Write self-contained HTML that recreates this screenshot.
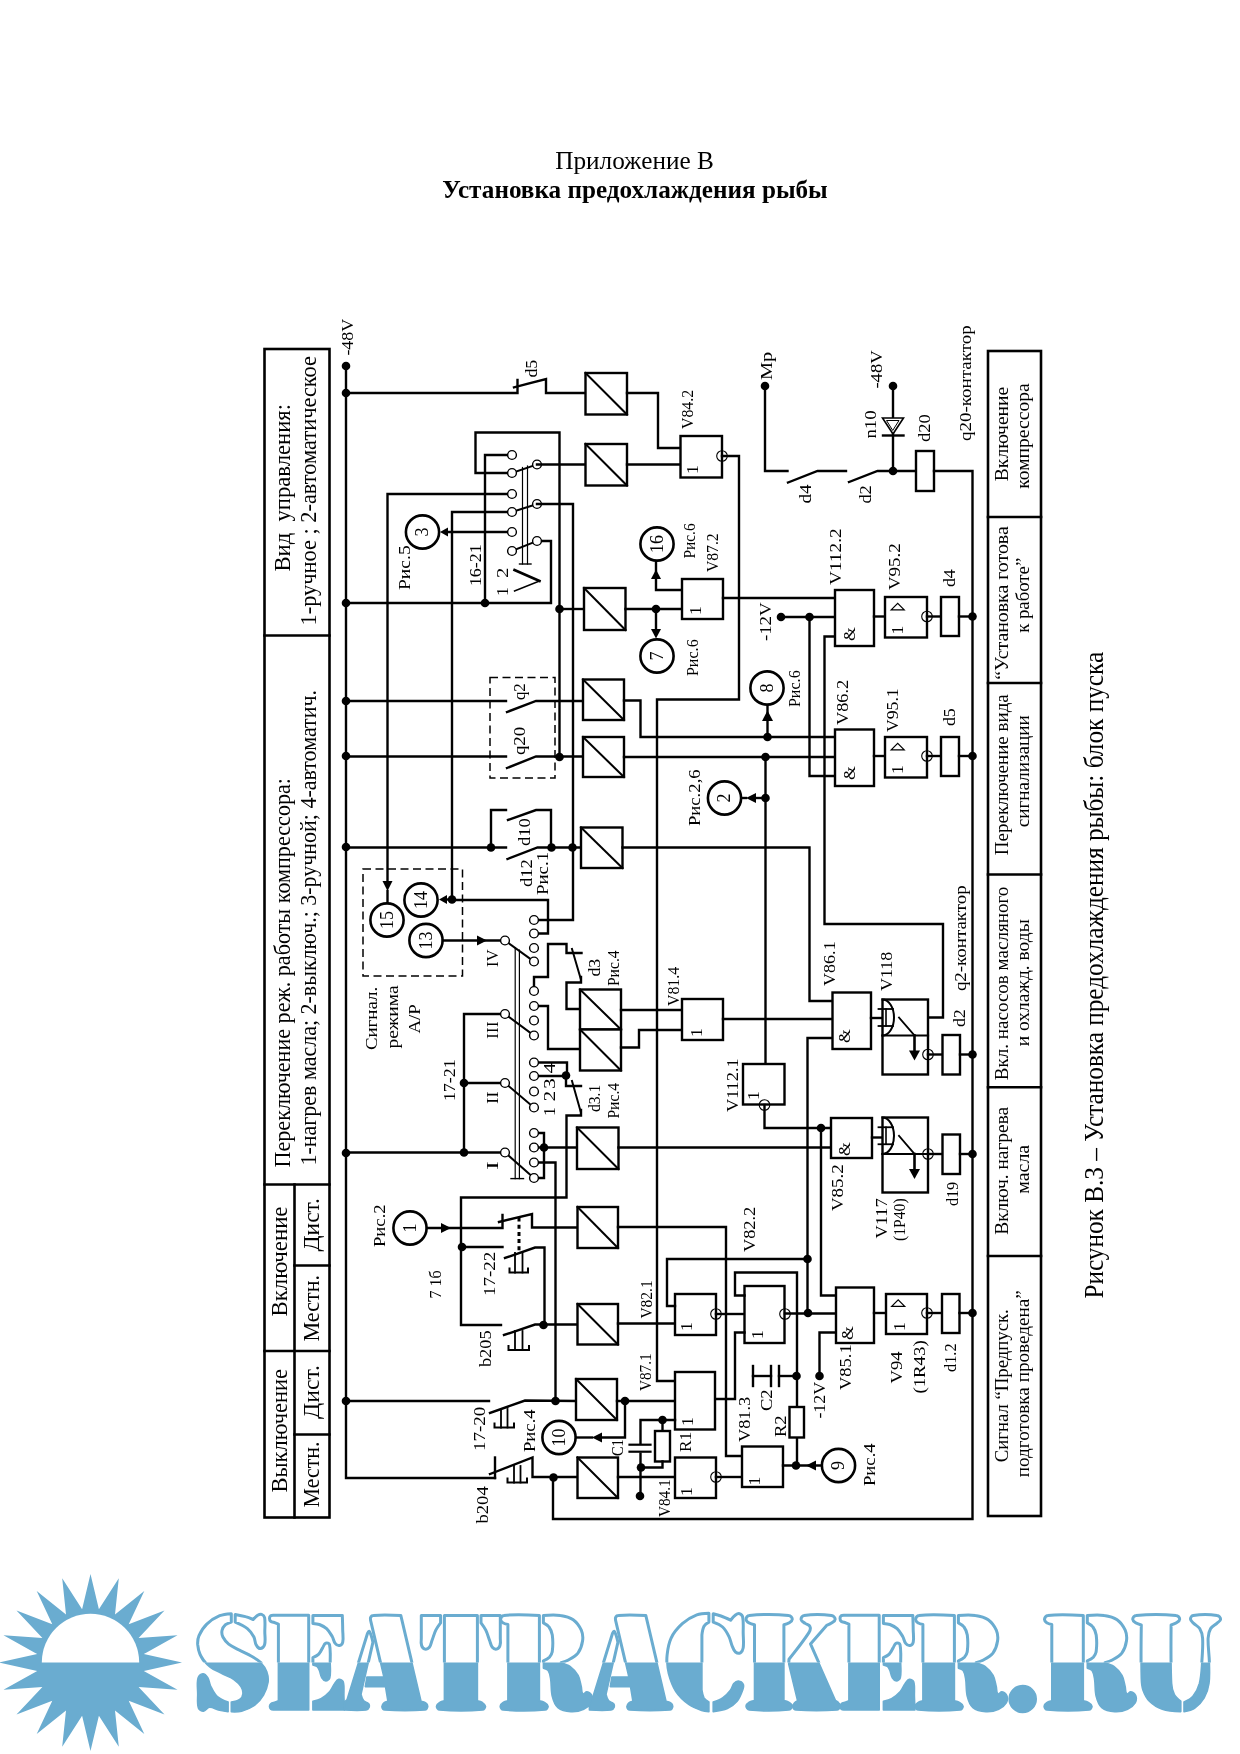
<!DOCTYPE html>
<html><head><meta charset="utf-8"><title>Приложение В</title>
<style>
html,body{margin:0;padding:0;background:#fff;}
body{width:1240px;height:1754px;overflow:hidden;position:relative;font-family:"Liberation Serif",serif;}
svg{position:absolute;left:0;top:0;display:block;opacity:0.999;will-change:opacity}
svg text{font-family:"Liberation Serif",serif;fill:#000;stroke:none}
svg .lg text{fill:inherit;stroke:inherit}
.h{position:absolute;left:0;width:1240px;text-align:center;font-size:24px;line-height:28px;color:#000;white-space:nowrap}
</style></head><body>
<svg width="1240" height="1754" viewBox="0 0 1240 1754" fill="none" stroke="#000" stroke-linecap="square" stroke-linejoin="miter">
<text x="634.5" y="169.2" font-size="25.3" text-anchor="middle" textLength="158.6" lengthAdjust="spacingAndGlyphs">Приложение В</text>
<text x="635" y="198" font-size="25.3" font-weight="bold" text-anchor="middle" textLength="385.6" lengthAdjust="spacingAndGlyphs">Установка предохлаждения рыбы</text>
<rect x="264.5" y="349" width="65.0" height="1168.5" stroke-width="2.6" fill="none"/>
<polyline points="264.5,635.5 329.5,635.5" stroke-width="2.6" />
<polyline points="264.5,1184.5 329.5,1184.5" stroke-width="2.6" />
<polyline points="264.5,1351 329.5,1351" stroke-width="2.6" />
<polyline points="294.5,1184.5 294.5,1517.5" stroke-width="2.6" />
<polyline points="294.5,1265.5 329.5,1265.5" stroke-width="2.6" />
<polyline points="294.5,1434.5 329.5,1434.5" stroke-width="2.6" />
<text transform="translate(289.6,571.5) rotate(-90)" font-size="24" textLength="167.5" lengthAdjust="spacingAndGlyphs">Вид  управления:</text>
<text transform="translate(316.4,625.5) rotate(-90)" font-size="24" textLength="269.5" lengthAdjust="spacingAndGlyphs">1-ручное ; 2-автоматическое</text>
<text transform="translate(289.6,1167.5) rotate(-90)" font-size="24" textLength="389.5" lengthAdjust="spacingAndGlyphs">Переключение реж. работы компрессора:</text>
<text transform="translate(316.4,1165.5) rotate(-90)" font-size="24" textLength="475.5" lengthAdjust="spacingAndGlyphs">1-нагрев масла; 2-выключ.; 3-ручной; 4-автоматич.</text>
<text transform="translate(287,1316.5) rotate(-90)" font-size="24" textLength="110.0" lengthAdjust="spacingAndGlyphs">Включение</text>
<text transform="translate(319,1251.5) rotate(-90)" font-size="24" textLength="53.5" lengthAdjust="spacingAndGlyphs">Дист.</text>
<text transform="translate(319,1341.5) rotate(-90)" font-size="24" textLength="66.5" lengthAdjust="spacingAndGlyphs">Местн.</text>
<text transform="translate(287,1492.5) rotate(-90)" font-size="24" textLength="123.5" lengthAdjust="spacingAndGlyphs">Выключение</text>
<text transform="translate(319,1419.0) rotate(-90)" font-size="24" textLength="54.0" lengthAdjust="spacingAndGlyphs">Дист.</text>
<text transform="translate(319,1507.5) rotate(-90)" font-size="24" textLength="66.0" lengthAdjust="spacingAndGlyphs">Местн.</text>
<rect x="988" y="351" width="53" height="1165" stroke-width="2.6" fill="none"/>
<polyline points="988,517 1041,517" stroke-width="2.6" />
<polyline points="988,683 1041,683" stroke-width="2.6" />
<polyline points="988,874.5 1041,874.5" stroke-width="2.6" />
<polyline points="988,1087.3 1041,1087.3" stroke-width="2.6" />
<polyline points="988,1256 1041,1256" stroke-width="2.6" />
<text transform="translate(1007.6,481.2) rotate(-90)" font-size="19" textLength="94.5" lengthAdjust="spacingAndGlyphs">Включение</text>
<text transform="translate(1029.3,488.8) rotate(-90)" font-size="19" textLength="105.5" lengthAdjust="spacingAndGlyphs">компрессора</text>
<text transform="translate(1007.6,679.8) rotate(-90)" font-size="19" textLength="153.5" lengthAdjust="spacingAndGlyphs">“Установка готова</text>
<text transform="translate(1029.3,632.8) rotate(-90)" font-size="19" textLength="75.0" lengthAdjust="spacingAndGlyphs">к работе”</text>
<text transform="translate(1007.6,855.2) rotate(-90)" font-size="19" textLength="161.0" lengthAdjust="spacingAndGlyphs">Переключение вида</text>
<text transform="translate(1029.3,827.2) rotate(-90)" font-size="19" textLength="112.0" lengthAdjust="spacingAndGlyphs">сигнализации</text>
<text transform="translate(1007.6,1080.2) rotate(-90)" font-size="19" textLength="193.5" lengthAdjust="spacingAndGlyphs">Вкл. насосов масляного</text>
<text transform="translate(1029.3,1046.2) rotate(-90)" font-size="19" textLength="127.0" lengthAdjust="spacingAndGlyphs">и охлажд. воды</text>
<text transform="translate(1007.6,1234.8) rotate(-90)" font-size="19" textLength="128.0" lengthAdjust="spacingAndGlyphs">Включ. нагрева</text>
<text transform="translate(1029.3,1193.8) rotate(-90)" font-size="19" textLength="49.0" lengthAdjust="spacingAndGlyphs">масла</text>
<text transform="translate(1007.6,1462.2) rotate(-90)" font-size="19" textLength="153.0" lengthAdjust="spacingAndGlyphs">Сигнал “Предпуск.</text>
<text transform="translate(1029.3,1477.2) rotate(-90)" font-size="19" textLength="187.0" lengthAdjust="spacingAndGlyphs">подготовка проведена”</text>
<text transform="translate(1102.6,1298.6) rotate(-90)" font-size="26.7" textLength="646.7" lengthAdjust="spacingAndGlyphs">Рисунок В.3 – Установка предохлаждения рыбы: блок пуска</text>
<polyline points="346,366 346,1478 495,1478" stroke-width="2.4" />
<circle cx="346" cy="366" r="4.3" fill="#000" stroke="none"/>
<circle cx="346" cy="393" r="4.3" fill="#000" stroke="none"/>
<circle cx="346" cy="603" r="4.3" fill="#000" stroke="none"/>
<circle cx="346" cy="701" r="4.3" fill="#000" stroke="none"/>
<circle cx="346" cy="756" r="4.3" fill="#000" stroke="none"/>
<circle cx="346" cy="847" r="4.3" fill="#000" stroke="none"/>
<circle cx="346" cy="1153" r="4.3" fill="#000" stroke="none"/>
<circle cx="346" cy="1401" r="4.3" fill="#000" stroke="none"/>
<text transform="translate(352.5,355.6) rotate(-90)" font-size="16.5" textLength="36.8" lengthAdjust="spacingAndGlyphs">-48V</text>
<polyline points="346,393 517.5,393 517.5,380" stroke-width="2.4" />
<polyline points="514,387.3 546,379 546,393 585.5,393" stroke-width="2.4" />
<text transform="translate(536.5,377.6) rotate(-90)" font-size="16.5" textLength="17.8" lengthAdjust="spacingAndGlyphs">d5</text>
<rect x="585.5" y="373" width="41.5" height="41.5" stroke-width="2.4" fill="#fff"/>
<polyline points="585.5,373 627,414.5" stroke-width="2" />
<polyline points="627,393 658,393 658,448 680.5,448" stroke-width="2.4" />
<polyline points="512,473 475.5,473 475.5,432.5 559.5,432.5 559.5,757" stroke-width="2.4" />
<polyline points="512,455 485,455 485,603" stroke-width="2.4" />
<polyline points="512,494 387.5,494 387.5,882" stroke-width="2.4" />
<polyline points="512,512 452,512 452,899.5" stroke-width="2.4" />
<polyline points="512,532 445,532" stroke-width="2.4" />
<polyline points="346,603 551,603 551,541 537,541" stroke-width="2.4" />
<circle cx="485" cy="603" r="4.3" fill="#000" stroke="none"/>
<polyline points="512,473 537,464.5" stroke-width="2" />
<polyline points="512,512 537,504" stroke-width="2" />
<polyline points="512,551 537,541" stroke-width="2" />
<polyline points="522.5,467.5 522.5,564" stroke-width="1.2" />
<polyline points="527.5,466 527.5,564" stroke-width="1.2" />
<polyline points="519.5,564 531,564" stroke-width="1.4" />
<circle cx="512" cy="455" r="4.4" fill="#fff" stroke-width="1.4"/>
<circle cx="512" cy="473" r="4.4" fill="#fff" stroke-width="1.4"/>
<circle cx="512" cy="494" r="4.4" fill="#fff" stroke-width="1.4"/>
<circle cx="512" cy="512" r="4.4" fill="#fff" stroke-width="1.4"/>
<circle cx="512" cy="532" r="4.4" fill="#fff" stroke-width="1.4"/>
<circle cx="512" cy="551" r="4.4" fill="#fff" stroke-width="1.4"/>
<circle cx="537" cy="464.5" r="4.4" fill="#fff" stroke-width="1.4"/>
<circle cx="537" cy="504" r="4.4" fill="#fff" stroke-width="1.4"/>
<circle cx="537" cy="541" r="4.4" fill="#fff" stroke-width="1.4"/>
<circle cx="422.5" cy="532" r="16.6" fill="#fff" stroke-width="2.6"/>
<text transform="translate(428.44,532) rotate(-90)" font-size="18" text-anchor="middle">3</text>
<polygon points="440,532 448,527.5 448,536.5" fill="#000" stroke="none"/>
<text transform="translate(409.5,590.1) rotate(-90)" font-size="16.5" textLength="44.8" lengthAdjust="spacingAndGlyphs">Рис.5</text>
<text transform="translate(480.5,586.1) rotate(-90)" font-size="16.5" textLength="41.8" lengthAdjust="spacingAndGlyphs">16-21</text>
<text transform="translate(507.5,596.1) rotate(-90)" font-size="16.5" textLength="8.8" lengthAdjust="spacingAndGlyphs">1</text>
<text transform="translate(507.5,578.1) rotate(-90)" font-size="16.5" textLength="10.3" lengthAdjust="spacingAndGlyphs">2</text>
<polyline points="514.5,570 539.5,581" stroke-width="2.6" />
<polyline points="539.5,581 514.5,591" stroke-width="1.4" />
<polyline points="537,464.5 585.5,464.5" stroke-width="2.4" />
<rect x="585.5" y="444" width="41.5" height="41.5" stroke-width="2.4" fill="#fff"/>
<polyline points="585.5,444 627,485.5" stroke-width="2" />
<polyline points="627,464.5 680.5,464.5" stroke-width="2.4" />
<polyline points="537,504 573,504 573,920 534,920" stroke-width="2.4" />
<rect x="680.5" y="436" width="41.5" height="41.5" stroke-width="2.4" fill="#fff"/>
<text transform="translate(697.5,474.1) rotate(-90)" font-size="16.5" textLength="8.8" lengthAdjust="spacingAndGlyphs">1</text>
<circle cx="722" cy="456" r="5.3" fill="none" stroke-width="1.1"/>
<polyline points="722,456 739,456 739,699.5 657,699.5 657,1381 675,1381" stroke-width="2.4" />
<text transform="translate(693,429.1) rotate(-90)" font-size="16.5" textLength="39.3" lengthAdjust="spacingAndGlyphs">V84.2</text>
<circle cx="559.5" cy="609" r="4.3" fill="#000" stroke="none"/>
<polyline points="559.5,609 584,609" stroke-width="2.4" />
<rect x="584" y="588" width="41.5" height="42" stroke-width="2.4" fill="#fff"/>
<polyline points="584,588 625.5,630" stroke-width="2" />
<polyline points="625.5,609 682,609" stroke-width="2.4" />
<circle cx="656" cy="609" r="4.3" fill="#000" stroke="none"/>
<polyline points="656,609 656,630" stroke-width="2.4" />
<polygon points="656,638.5 651,629.0 661,629.0" fill="#000" stroke="none"/>
<polyline points="682,590 656,590 656,562" stroke-width="2.4" />
<polygon points="656,569.5 651,579.0 661,579.0" fill="#000" stroke="none"/>
<circle cx="657" cy="544" r="16.6" fill="#fff" stroke-width="2.6"/>
<text transform="translate(662.94,544) rotate(-90)" font-size="18" text-anchor="middle">16</text>
<circle cx="657" cy="656" r="16.6" fill="#fff" stroke-width="2.6"/>
<text transform="translate(662.94,656) rotate(-90)" font-size="18" text-anchor="middle">7</text>
<rect x="682" y="579" width="41" height="40" stroke-width="2.4" fill="#fff"/>
<text transform="translate(700.5,615.1) rotate(-90)" font-size="16.5" textLength="8.8" lengthAdjust="spacingAndGlyphs">1</text>
<polyline points="723,598 835,598" stroke-width="2.4" />
<text transform="translate(695,558.6) rotate(-90)" font-size="16.5" textLength="35.3" lengthAdjust="spacingAndGlyphs">Рис.6</text>
<text transform="translate(718,572.1) rotate(-90)" font-size="16.5" textLength="38.8" lengthAdjust="spacingAndGlyphs">V87.2</text>
<text transform="translate(698,676.1) rotate(-90)" font-size="16.5" textLength="36.8" lengthAdjust="spacingAndGlyphs">Рис.6</text>
<circle cx="765" cy="386" r="4.3" fill="#000" stroke="none"/>
<text transform="translate(771.5,380.1) rotate(-90)" font-size="16.5" textLength="28.3" lengthAdjust="spacingAndGlyphs">Мр</text>
<polyline points="765,386 765,471 787.5,471" stroke-width="2.4" />
<polyline points="788,482.5 817.5,471 846,471" stroke-width="2.4" />
<text transform="translate(810.5,503.6) rotate(-90)" font-size="16.5" textLength="19.3" lengthAdjust="spacingAndGlyphs">d4</text>
<polyline points="849,482 877.5,471 916,471" stroke-width="2.4" />
<text transform="translate(870.5,503.6) rotate(-90)" font-size="16.5" textLength="18.3" lengthAdjust="spacingAndGlyphs">d2</text>
<circle cx="893" cy="471" r="4.3" fill="#000" stroke="none"/>
<circle cx="893" cy="386" r="4.3" fill="#000" stroke="none"/>
<polyline points="893,386 893,471" stroke-width="2.4" />
<polygon points="882.5,418 903.5,418 893,434" fill="#fff" stroke-width="1.6"/>
<polygon points="887,420.5 899,420.5 893,430" fill="#fff" stroke-width="1"/>
<polyline points="883,435.5 903.5,435.5" stroke-width="2.4" />
<text transform="translate(881.5,388.6) rotate(-90)" font-size="16.5" textLength="38.3" lengthAdjust="spacingAndGlyphs">-48V</text>
<text transform="translate(875.5,438.6) rotate(-90)" font-size="16.5" textLength="28.3" lengthAdjust="spacingAndGlyphs">n10</text>
<text transform="translate(930,442.1) rotate(-90)" font-size="16.5" textLength="27.8" lengthAdjust="spacingAndGlyphs">d20</text>
<rect x="916" y="451" width="18" height="40" stroke-width="2.4" fill="#fff"/>
<polyline points="934,471 972.5,471 972.5,1519 553,1519 553,1477.5" stroke-width="2.4" />
<text transform="translate(970.5,441.1) rotate(-90)" font-size="16.5" textLength="115.8" lengthAdjust="spacingAndGlyphs">q20-контактор</text>
<text transform="translate(770.5,641.1) rotate(-90)" font-size="16.5" textLength="38.8" lengthAdjust="spacingAndGlyphs">-12V</text>
<circle cx="781" cy="617" r="4.3" fill="#000" stroke="none"/>
<circle cx="809.5" cy="617" r="4.3" fill="#000" stroke="none"/>
<polyline points="781,617 835,617" stroke-width="2.4" />
<polyline points="809.5,617 809.5,776 835,776" stroke-width="2.4" />
<polyline points="835,636.5 824.5,636.5 824.5,924 943,924 943,1017.5 928,1017.5" stroke-width="2.4" />
<rect x="835" y="590" width="39" height="56" stroke-width="2.4" fill="#fff"/>
<text transform="translate(854.5,641.1) rotate(-90)" font-size="16.5" textLength="13.8" lengthAdjust="spacingAndGlyphs">&amp;</text>
<text transform="translate(840.5,585.1) rotate(-90)" font-size="16.5" textLength="56.8" lengthAdjust="spacingAndGlyphs">V112.2</text>
<polyline points="874,616.5 885,616.5" stroke-width="2.4" />
<rect x="885" y="597" width="42" height="40.5" stroke-width="2.4" fill="#fff"/>
<text transform="translate(903,634.6) rotate(-90)" font-size="16.5" textLength="8.8" lengthAdjust="spacingAndGlyphs">1</text>
<polygon points="891.2,609.8 904.2,609.8 897.7,603.4" fill="#fff" stroke-width="1.2" stroke-linejoin="miter"/>
<circle cx="927" cy="616.5" r="5.3" fill="none" stroke-width="1.1"/>
<polyline points="927,616.5 941,616.5" stroke-width="2.4" />
<rect x="941" y="597" width="18" height="39" stroke-width="2.4" fill="#fff"/>
<polyline points="959,616.5 972.5,616.5" stroke-width="2.4" />
<circle cx="972.5" cy="616.5" r="4.3" fill="#000" stroke="none"/>
<text transform="translate(899.5,590.1) rotate(-90)" font-size="16.5" textLength="46.8" lengthAdjust="spacingAndGlyphs">V95.2</text>
<text transform="translate(954.5,587.1) rotate(-90)" font-size="16.5" textLength="17.8" lengthAdjust="spacingAndGlyphs">d4</text>
<polyline points="346,701 506,701" stroke-width="2.4" />
<polyline points="507,712 536,701 583,701" stroke-width="2.4" />
<polyline points="346,756.5 506,756.5" stroke-width="2.4" />
<polyline points="507,768 536,756.5 583,756.5" stroke-width="2.4" />
<circle cx="559.5" cy="757" r="4.3" fill="#000" stroke="none"/>
<rect x="490" y="677.5" width="65" height="100.5" stroke-width="1.5" stroke-dasharray="8 4.5" stroke-linecap="butt"/>
<text transform="translate(524.5,700.1) rotate(-90)" font-size="16.5" textLength="16.8" lengthAdjust="spacingAndGlyphs">q2</text>
<text transform="translate(524.5,755.1) rotate(-90)" font-size="16.5" textLength="28.3" lengthAdjust="spacingAndGlyphs">q20</text>
<rect x="583" y="679.5" width="41" height="40.5" stroke-width="2.4" fill="#fff"/>
<polyline points="583,679.5 624,720" stroke-width="2" />
<rect x="583" y="737" width="41" height="40" stroke-width="2.4" fill="#fff"/>
<polyline points="583,737 624,777" stroke-width="2" />
<polyline points="624,700.5 640.5,700.5 640.5,737 835,737" stroke-width="2.4" />
<polyline points="624,757 835,757" stroke-width="2.4" />
<circle cx="767.5" cy="737" r="4.3" fill="#000" stroke="none"/>
<circle cx="765.5" cy="757" r="4.3" fill="#000" stroke="none"/>
<polyline points="767.5,737 767.5,705.5" stroke-width="2.4" />
<polygon points="767.5,710.5 762.0,721.0 773.0,721.0" fill="#000" stroke="none"/>
<circle cx="767" cy="688" r="16.6" fill="#fff" stroke-width="2.6"/>
<text transform="translate(772.94,688) rotate(-90)" font-size="18" text-anchor="middle">8</text>
<text transform="translate(800,707.1) rotate(-90)" font-size="16.5" textLength="36.8" lengthAdjust="spacingAndGlyphs">Рис.6</text>
<rect x="835" y="729.5" width="39" height="56.5" stroke-width="2.4" fill="#fff"/>
<text transform="translate(854.5,780.1) rotate(-90)" font-size="16.5" textLength="13.8" lengthAdjust="spacingAndGlyphs">&amp;</text>
<text transform="translate(847.5,725.1) rotate(-90)" font-size="16.5" textLength="45.3" lengthAdjust="spacingAndGlyphs">V86.2</text>
<polyline points="874,756 885,756" stroke-width="2.4" />
<rect x="885" y="737" width="42" height="40.5" stroke-width="2.4" fill="#fff"/>
<text transform="translate(903,774.1) rotate(-90)" font-size="16.5" textLength="8.8" lengthAdjust="spacingAndGlyphs">1</text>
<polygon points="891.2,749.8 904.2,749.8 897.7,743.4" fill="#fff" stroke-width="1.2" stroke-linejoin="miter"/>
<circle cx="927" cy="756" r="5.3" fill="none" stroke-width="1.1"/>
<polyline points="927,756 941,756" stroke-width="2.4" />
<rect x="941" y="737" width="18" height="39" stroke-width="2.4" fill="#fff"/>
<polyline points="959,756 972.5,756" stroke-width="2.4" />
<circle cx="972.5" cy="756" r="4.3" fill="#000" stroke="none"/>
<text transform="translate(897.5,732.1) rotate(-90)" font-size="16.5" textLength="43.8" lengthAdjust="spacingAndGlyphs">V95.1</text>
<text transform="translate(955,726.1) rotate(-90)" font-size="16.5" textLength="17.8" lengthAdjust="spacingAndGlyphs">d5</text>
<polyline points="765.5,757 765.5,1064" stroke-width="2.4" />
<circle cx="765.5" cy="798" r="4.3" fill="#000" stroke="none"/>
<polyline points="765.5,798 755,798" stroke-width="2.4" />
<polygon points="746,798 756,793 756,803" fill="#000" stroke="none"/>
<polyline points="746,798 742,798" stroke-width="2.4" />
<circle cx="724.5" cy="798" r="16.6" fill="#fff" stroke-width="2.6"/>
<text transform="translate(730.44,798) rotate(-90)" font-size="18" text-anchor="middle">2</text>
<text transform="translate(700,826.1) rotate(-90)" font-size="16.5" textLength="56.8" lengthAdjust="spacingAndGlyphs">Рис.2,6</text>
<polyline points="346,847.5 506,847.5" stroke-width="2.4" />
<circle cx="491" cy="847.5" r="4.3" fill="#000" stroke="none"/>
<polyline points="491,847.5 491,810 506,810" stroke-width="2.4" />
<polyline points="508,820 536,810 551,810 551,847.5" stroke-width="2.4" />
<polyline points="507.5,859 537.5,847.5 581,847.5" stroke-width="2.4" />
<circle cx="551.5" cy="847.5" r="4.3" fill="#000" stroke="none"/>
<circle cx="572.5" cy="847.5" r="4.3" fill="#000" stroke="none"/>
<text transform="translate(529.5,846.1) rotate(-90)" font-size="16.5" textLength="27.8" lengthAdjust="spacingAndGlyphs">d10</text>
<text transform="translate(531.5,887.1) rotate(-90)" font-size="16.5" textLength="27.8" lengthAdjust="spacingAndGlyphs">d12</text>
<text transform="translate(547.5,895.1) rotate(-90)" font-size="16.5" textLength="43.3" lengthAdjust="spacingAndGlyphs">Рис.1</text>
<rect x="581" y="827.5" width="41.5" height="40.5" stroke-width="2.4" fill="#fff"/>
<polyline points="581,827.5 622.5,868" stroke-width="2" />
<polyline points="622.5,847.5 809.5,847.5 809.5,1001 832.5,1001" stroke-width="2.4" />
<rect x="363" y="869" width="99.5" height="107" stroke-width="1.5" stroke-dasharray="8 4.5" stroke-linecap="butt"/>
<polygon points="387.5,891 382.5,881 392.5,881" fill="#000" stroke="none"/>
<polyline points="387.5,891 387.5,903" stroke-width="2.4" />
<circle cx="421" cy="900" r="16.6" fill="#fff" stroke-width="2.6"/>
<text transform="translate(426.94,900) rotate(-90)" font-size="18" text-anchor="middle">14</text>
<circle cx="387" cy="920" r="16.6" fill="#fff" stroke-width="2.6"/>
<text transform="translate(392.94,920) rotate(-90)" font-size="18" text-anchor="middle">15</text>
<circle cx="426" cy="940.5" r="16.6" fill="#fff" stroke-width="2.6"/>
<text transform="translate(431.94,940.5) rotate(-90)" font-size="18" text-anchor="middle">13</text>
<circle cx="452" cy="899.5" r="4.3" fill="#000" stroke="none"/>
<polygon points="439,899.5 447,895.0 447,904.0" fill="#000" stroke="none"/>
<polyline points="447,899.5 452,899.5" stroke-width="2.4" />
<polyline points="452,900 548,900 548,933.5 534,933.5" stroke-width="2.4" />
<polyline points="443,940.5 505,940.5" stroke-width="2.4" />
<polygon points="487,940.5 477,935.5 477,945.5" fill="#000" stroke="none"/>
<text transform="translate(376.5,1050.1) rotate(-90)" font-size="16.5" textLength="63.3" lengthAdjust="spacingAndGlyphs">Сигнал.</text>
<text transform="translate(397.5,1048.6) rotate(-90)" font-size="16.5" textLength="63.3" lengthAdjust="spacingAndGlyphs">режима</text>
<text transform="translate(419.5,1033.6) rotate(-90)" font-size="16.5" textLength="29.3" lengthAdjust="spacingAndGlyphs">А/Р</text>
<text transform="translate(455,1101.1) rotate(-90)" font-size="16.5" textLength="41.8" lengthAdjust="spacingAndGlyphs">17-21</text>
<polyline points="346,1152.5 505,1152.5" stroke-width="2.4" />
<circle cx="464" cy="1152.5" r="4.3" fill="#000" stroke="none"/>
<circle cx="464" cy="1083" r="4.3" fill="#000" stroke="none"/>
<polyline points="464,1152.5 464,1014 505,1014" stroke-width="2.4" />
<polyline points="464,1083 505,1083" stroke-width="2.4" />
<polyline points="505,940.5 534,961.5" stroke-width="2" />
<polyline points="505,1014 534,1035.5" stroke-width="2" />
<polyline points="505,1083 534,1107.5" stroke-width="2" />
<polyline points="505,1152.5 534,1178" stroke-width="2" />
<polyline points="515.2,947.5 515.2,1178.6" stroke-width="1.2" />
<polyline points="519.4,950 519.4,1178.6" stroke-width="1.2" />
<polyline points="511,1178.6 523.5,1178.6" stroke-width="1.4" />
<text transform="translate(497.5,967.1) rotate(-90)" font-size="16.5" textLength="17.8" lengthAdjust="spacingAndGlyphs">IV</text>
<text transform="translate(497.5,1039.1) rotate(-90)" font-size="16.5" textLength="17.8" lengthAdjust="spacingAndGlyphs">III</text>
<text transform="translate(497.5,1104.1) rotate(-90)" font-size="16.5" textLength="12.8" lengthAdjust="spacingAndGlyphs">II</text>
<text transform="translate(497.5,1170.1) rotate(-90)" font-size="16.5" textLength="8.8" lengthAdjust="spacingAndGlyphs">I</text>
<text transform="translate(555,1116.1) rotate(-90)" font-size="16.5" textLength="8.8" lengthAdjust="spacingAndGlyphs">1</text>
<text transform="translate(555,1101.6) rotate(-90)" font-size="16.5" textLength="10.8" lengthAdjust="spacingAndGlyphs">2</text>
<text transform="translate(555,1089.1) rotate(-90)" font-size="16.5" textLength="10.8" lengthAdjust="spacingAndGlyphs">3</text>
<text transform="translate(555,1073.6) rotate(-90)" font-size="16.5" textLength="10.8" lengthAdjust="spacingAndGlyphs">4</text>
<polyline points="534,991 534,977 548,977 548,944 566.5,944 566.5,953 581.5,953" stroke-width="2.4" />
<polyline points="572,949 580.5,978" stroke-width="2" />
<polyline points="581,977 581,982.5 566.5,982.5 566.5,1009 580,1009" stroke-width="2.4" />
<polyline points="534,1006 548,1006 548,1049 580,1049" stroke-width="2.4" />
<text transform="translate(600,976.6) rotate(-90)" font-size="16.5" textLength="17.8" lengthAdjust="spacingAndGlyphs">d3</text>
<text transform="translate(618.5,986.1) rotate(-90)" font-size="16.5" textLength="35.8" lengthAdjust="spacingAndGlyphs">Рис.4</text>
<rect x="580" y="989.5" width="41" height="40.0" stroke-width="2.4" fill="#fff"/>
<polyline points="580,989.5 621,1029.5" stroke-width="2" />
<rect x="580" y="1029.5" width="41" height="41.0" stroke-width="2.4" fill="#fff"/>
<polyline points="580,1029.5 621,1070.5" stroke-width="2" />
<polyline points="621,1010 682,1010" stroke-width="2.4" />
<polyline points="621,1047.5 639,1047.5 639,1030 682,1030" stroke-width="2.4" />
<polyline points="534,1062.5 567,1062.5 567,1075.5" stroke-width="2.4" />
<polyline points="534,1076 566,1076 566,1086 581,1086" stroke-width="2.4" />
<circle cx="566" cy="1075.5" r="4.3" fill="#000" stroke="none"/>
<polyline points="572,1081 580.5,1111" stroke-width="2" />
<polyline points="581,1110 581,1115.5 566.5,1115.5 566.5,1197.5 461,1197.5 461,1325 501,1325" stroke-width="2.4" />
<text transform="translate(600,1112.1) rotate(-90)" font-size="16.5" textLength="27.3" lengthAdjust="spacingAndGlyphs">d3.1</text>
<text transform="translate(618.5,1118.6) rotate(-90)" font-size="16.5" textLength="35.8" lengthAdjust="spacingAndGlyphs">Рис.4</text>
<polyline points="534,1133 544,1133 544,1178 534,1178" stroke-width="2.4" />
<polyline points="534,1147.5 577,1147.5" stroke-width="2.4" />
<circle cx="544" cy="1147.5" r="4.3" fill="#000" stroke="none"/>
<polyline points="534,1162.5 555.5,1162.5 555.5,1401" stroke-width="2.4" />
<rect x="577" y="1127.5" width="41.5" height="41.5" stroke-width="2.4" fill="#fff"/>
<polyline points="577,1127.5 618.5,1169" stroke-width="2" />
<polyline points="618.5,1147.5 831,1147.5" stroke-width="2.4" />
<circle cx="534" cy="920" r="4.4" fill="#fff" stroke-width="1.4"/>
<circle cx="534" cy="933.5" r="4.4" fill="#fff" stroke-width="1.4"/>
<circle cx="534" cy="948" r="4.4" fill="#fff" stroke-width="1.4"/>
<circle cx="534" cy="961.5" r="4.4" fill="#fff" stroke-width="1.4"/>
<circle cx="534" cy="991" r="4.4" fill="#fff" stroke-width="1.4"/>
<circle cx="534" cy="1006" r="4.4" fill="#fff" stroke-width="1.4"/>
<circle cx="534" cy="1020.5" r="4.4" fill="#fff" stroke-width="1.4"/>
<circle cx="534" cy="1035.5" r="4.4" fill="#fff" stroke-width="1.4"/>
<circle cx="534" cy="1062.5" r="4.4" fill="#fff" stroke-width="1.4"/>
<circle cx="534" cy="1076" r="4.4" fill="#fff" stroke-width="1.4"/>
<circle cx="534" cy="1091.5" r="4.4" fill="#fff" stroke-width="1.4"/>
<circle cx="534" cy="1107.5" r="4.4" fill="#fff" stroke-width="1.4"/>
<circle cx="534" cy="1133" r="4.4" fill="#fff" stroke-width="1.4"/>
<circle cx="534" cy="1147.5" r="4.4" fill="#fff" stroke-width="1.4"/>
<circle cx="534" cy="1162.5" r="4.4" fill="#fff" stroke-width="1.4"/>
<circle cx="534" cy="1178" r="4.4" fill="#fff" stroke-width="1.4"/>
<circle cx="505" cy="940.5" r="4.4" fill="#fff" stroke-width="1.4"/>
<circle cx="505" cy="1014" r="4.4" fill="#fff" stroke-width="1.4"/>
<circle cx="505" cy="1083" r="4.4" fill="#fff" stroke-width="1.4"/>
<circle cx="505" cy="1152.5" r="4.4" fill="#fff" stroke-width="1.4"/>
<rect x="682" y="999" width="41" height="41" stroke-width="2.4" fill="#fff"/>
<text transform="translate(701.5,1037.1) rotate(-90)" font-size="16.5" textLength="8.8" lengthAdjust="spacingAndGlyphs">1</text>
<text transform="translate(678.5,1006.1) rotate(-90)" font-size="16.5" textLength="39.3" lengthAdjust="spacingAndGlyphs">V81.4</text>
<polyline points="723,1019 832.5,1019" stroke-width="2.4" />
<rect x="743" y="1064" width="41.5" height="40.5" stroke-width="2.4" fill="#fff"/>
<text transform="translate(758.5,1100.1) rotate(-90)" font-size="16.5" textLength="8.8" lengthAdjust="spacingAndGlyphs">1</text>
<circle cx="764.5" cy="1105" r="5.3" fill="none" stroke-width="1.1"/>
<polyline points="764.5,1105 764.5,1128 831,1128" stroke-width="2.4" />
<circle cx="821" cy="1128" r="4.3" fill="#000" stroke="none"/>
<polyline points="821,1128 821,1295.5 836,1295.5" stroke-width="2.4" />
<text transform="translate(737.5,1112.1) rotate(-90)" font-size="16.5" textLength="53.8" lengthAdjust="spacingAndGlyphs">V112.1</text>
<polyline points="832.5,1038 807.5,1038 807.5,1313" stroke-width="2.4" />
<rect x="832.5" y="992.5" width="38.5" height="56.5" stroke-width="2.4" fill="#fff"/>
<text transform="translate(849.5,1043.1) rotate(-90)" font-size="16.5" textLength="13.8" lengthAdjust="spacingAndGlyphs">&amp;</text>
<text transform="translate(834.5,986.1) rotate(-90)" font-size="16.5" textLength="44.8" lengthAdjust="spacingAndGlyphs">V86.1</text>
<polyline points="871,1018 882.5,1018" stroke-width="2.4" />
<rect x="882.5" y="999.5" width="45.5" height="75.0" stroke-width="2.4" fill="#fff"/>
<polyline points="882.5,1035.5 928,1035.5" stroke-width="2.2" />
<path d="M882.5,999.5 A11.5,18.0 0 0 1 882.5,1035.5" stroke-width="2"/>
<polyline points="878.5,1009.0 893.0,1009.0" stroke-width="1.8" />
<polyline points="878.5,1026.0 893.0,1026.0" stroke-width="1.8" />
<polyline points="886.0,1009.0 886.0,1026.0" stroke-width="1.6" />
<polyline points="899.0,1017.5 914.5,1035.5" stroke-width="1.8" />
<polyline points="914.5,1035.5 914.5,1051.5" stroke-width="2.6" />
<polygon points="914.5,1060.5 909.0,1050.5 920.0,1050.5" fill="#000" stroke="none"/>
<text transform="translate(891.5,991.1) rotate(-90)" font-size="16.5" textLength="39.3" lengthAdjust="spacingAndGlyphs">V118</text>
<circle cx="928" cy="1054.5" r="5.3" fill="none" stroke-width="1.1"/>
<polyline points="928,1054.5 942.5,1054.5" stroke-width="2.4" />
<rect x="942.5" y="1035" width="17.5" height="39.5" stroke-width="2.4" fill="#fff"/>
<polyline points="960,1054.5 972.5,1054.5" stroke-width="2.4" />
<circle cx="972.5" cy="1054.5" r="4.3" fill="#000" stroke="none"/>
<text transform="translate(965,1027.1) rotate(-90)" font-size="16.5" textLength="17.8" lengthAdjust="spacingAndGlyphs">d2</text>
<text transform="translate(966,991.1) rotate(-90)" font-size="16.5" textLength="105.8" lengthAdjust="spacingAndGlyphs">q2-контактор</text>
<rect x="831" y="1118" width="41" height="40" stroke-width="2.4" fill="#fff"/>
<text transform="translate(849.5,1156.1) rotate(-90)" font-size="16.5" textLength="13.8" lengthAdjust="spacingAndGlyphs">&amp;</text>
<text transform="translate(842.5,1211.1) rotate(-90)" font-size="16.5" textLength="46.8" lengthAdjust="spacingAndGlyphs">V85.2</text>
<polyline points="872,1137.5 882.5,1137.5" stroke-width="2.4" />
<rect x="882.5" y="1117.5" width="45.5" height="75.0" stroke-width="2.4" fill="#fff"/>
<polyline points="882.5,1154 928,1154" stroke-width="2.2" />
<path d="M882.5,1117.5 A11.5,18.25 0 0 1 882.5,1154" stroke-width="2"/>
<polyline points="878.5,1127.25 893.0,1127.25" stroke-width="1.8" />
<polyline points="878.5,1144.25 893.0,1144.25" stroke-width="1.8" />
<polyline points="886.0,1127.25 886.0,1144.25" stroke-width="1.6" />
<polyline points="899.0,1135.75 914.5,1154" stroke-width="1.8" />
<polyline points="914.5,1154 914.5,1170" stroke-width="2.6" />
<polygon points="914.5,1179 909.0,1169 920.0,1169" fill="#000" stroke="none"/>
<circle cx="928" cy="1154" r="5.3" fill="none" stroke-width="1.1"/>
<polyline points="928,1154 942.5,1154" stroke-width="2.4" />
<rect x="942.5" y="1134.5" width="17.5" height="39.5" stroke-width="2.4" fill="#fff"/>
<polyline points="960,1154 972.5,1154" stroke-width="2.4" />
<circle cx="972.5" cy="1154" r="4.3" fill="#000" stroke="none"/>
<text transform="translate(886.5,1238.6) rotate(-90)" font-size="16.5" textLength="40.3" lengthAdjust="spacingAndGlyphs">V117</text>
<text transform="translate(904.5,1241.1) rotate(-90)" font-size="16.5" textLength="42.8" lengthAdjust="spacingAndGlyphs">(1P40)</text>
<text transform="translate(958,1206.1) rotate(-90)" font-size="16.5" textLength="24.3" lengthAdjust="spacingAndGlyphs">d19</text>
<circle cx="410" cy="1228" r="16.6" fill="#fff" stroke-width="2.6"/>
<text transform="translate(415.94,1228) rotate(-90)" font-size="18" text-anchor="middle">1</text>
<text transform="translate(385,1247.1) rotate(-90)" font-size="16.5" textLength="42.8" lengthAdjust="spacingAndGlyphs">Рис.2</text>
<polyline points="427,1228 502.5,1228 502.5,1215" stroke-width="2.4" />
<polygon points="451,1228 441,1223 441,1233" fill="#000" stroke="none"/>
<polyline points="499,1222 532,1214 532,1227.5 577.5,1227.5" stroke-width="2.4" />
<line x1="519" y1="1217.5" x2="519" y2="1253" stroke-width="3" stroke-dasharray="4 3.2" stroke-linecap="butt"/>
<circle cx="462" cy="1247" r="4.3" fill="#000" stroke="none"/>
<polyline points="461,1247 502.5,1247" stroke-width="2.4" />
<polyline points="505,1258 535,1247.5 544.5,1247.5 544.5,1325" stroke-width="2.4" />
<polyline points="515,1253 515,1272.5" stroke-width="1.8" />
<polyline points="522.5,1253 522.5,1272.5" stroke-width="1.8" />
<polyline points="509.5,1268.5 509.5,1272.5 528.0,1272.5 528.0,1268.5" stroke-width="2" />
<text transform="translate(495,1296.1) rotate(-90)" font-size="16.5" textLength="44.3" lengthAdjust="spacingAndGlyphs">17-22</text>
<text transform="translate(440.5,1298.6) rotate(-90)" font-size="16.5" textLength="28.3" lengthAdjust="spacingAndGlyphs">7 1б</text>
<polyline points="504,1335 535,1324.5 577.5,1324.5" stroke-width="2.4" />
<circle cx="543.5" cy="1325" r="4.3" fill="#000" stroke="none"/>
<polyline points="515,1331 515,1350" stroke-width="1.8" />
<polyline points="522.5,1331 522.5,1350" stroke-width="1.8" />
<polyline points="508.5,1346 508.5,1350 529.0,1350 529.0,1346" stroke-width="2" />
<text transform="translate(490.5,1367.1) rotate(-90)" font-size="16.5" textLength="36.8" lengthAdjust="spacingAndGlyphs">b205</text>
<polyline points="346,1401 489,1401" stroke-width="2.4" />
<polyline points="490,1413 525,1400.5 576,1401" stroke-width="2.4" />
<circle cx="555.5" cy="1401" r="4.3" fill="#000" stroke="none"/>
<polyline points="501,1409 501,1427.5" stroke-width="1.8" />
<polyline points="507.5,1409 507.5,1427.5" stroke-width="1.8" />
<polyline points="494.5,1423.5 494.5,1427.5 514.0,1427.5 514.0,1423.5" stroke-width="2" />
<text transform="translate(484.5,1451.1) rotate(-90)" font-size="16.5" textLength="44.3" lengthAdjust="spacingAndGlyphs">17-20</text>
<text transform="translate(535,1452.1) rotate(-90)" font-size="16.5" textLength="42.8" lengthAdjust="spacingAndGlyphs">Рис.4</text>
<polyline points="495,1478 495,1457.5" stroke-width="2.4" />
<polyline points="490,1474 532.5,1457.5 532.5,1477 577.5,1477" stroke-width="2.4" />
<circle cx="553.5" cy="1477.5" r="4.3" fill="#000" stroke="none"/>
<polyline points="514,1466 514,1482.5" stroke-width="1.8" />
<polyline points="520.5,1466 520.5,1482.5" stroke-width="1.8" />
<polyline points="507.5,1478.5 507.5,1482.5 527.0,1482.5 527.0,1478.5" stroke-width="2" />
<text transform="translate(488,1523.6) rotate(-90)" font-size="16.5" textLength="37.3" lengthAdjust="spacingAndGlyphs">b204</text>
<rect x="577.5" y="1207" width="40.5" height="41" stroke-width="2.4" fill="#fff"/>
<polyline points="577.5,1207 618,1248" stroke-width="2" />
<rect x="577.5" y="1304" width="40.5" height="40.5" stroke-width="2.4" fill="#fff"/>
<polyline points="577.5,1304 618,1344.5" stroke-width="2" />
<rect x="576" y="1379" width="41" height="41" stroke-width="2.4" fill="#fff"/>
<polyline points="576,1379 617,1420" stroke-width="2" />
<rect x="577.5" y="1457.5" width="40.5" height="40.5" stroke-width="2.4" fill="#fff"/>
<polyline points="577.5,1457.5 618,1498" stroke-width="2" />
<circle cx="559" cy="1437.5" r="16.6" fill="#fff" stroke-width="2.6"/>
<text transform="translate(564.94,1437.5) rotate(-90)" font-size="18" text-anchor="middle">10</text>
<circle cx="625" cy="1401" r="4.3" fill="#000" stroke="none"/>
<polyline points="617,1401 675,1401" stroke-width="2.4" />
<polyline points="625,1401 625,1437.5 600,1437.5" stroke-width="2.4" />
<polygon points="592,1437.5 602,1432.5 602,1442.5" fill="#000" stroke="none"/>
<polyline points="592,1437.5 577,1437.5" stroke-width="2.4" />
<polyline points="618,1227 726,1227 726,1456 742,1456" stroke-width="2.4" />
<polyline points="618,1323.5 675,1323.5" stroke-width="2.4" />
<rect x="675" y="1294" width="41" height="41" stroke-width="2.4" fill="#fff"/>
<text transform="translate(691.5,1331.1) rotate(-90)" font-size="16.5" textLength="8.8" lengthAdjust="spacingAndGlyphs">1</text>
<circle cx="716" cy="1314" r="5.3" fill="none" stroke-width="1.1"/>
<polyline points="716,1314 744.5,1314" stroke-width="2.4" />
<text transform="translate(651.5,1318.6) rotate(-90)" font-size="16.5" textLength="38.3" lengthAdjust="spacingAndGlyphs">V82.1</text>
<polyline points="675,1306 667,1306 667,1259 807.5,1259" stroke-width="2.4" />
<circle cx="807.5" cy="1259" r="4.3" fill="#000" stroke="none"/>
<circle cx="808" cy="1313" r="4.3" fill="#000" stroke="none"/>
<rect x="744.5" y="1286" width="40.0" height="57" stroke-width="2.4" fill="#fff"/>
<text transform="translate(763,1339.1) rotate(-90)" font-size="16.5" textLength="8.8" lengthAdjust="spacingAndGlyphs">1</text>
<circle cx="785" cy="1314" r="5.3" fill="none" stroke-width="1.1"/>
<polyline points="785,1313.5 836,1313.5" stroke-width="2.4" />
<polyline points="744.5,1295.5 735,1295.5 735,1272.5 797,1272.5 797,1465.5" stroke-width="2.4" />
<polyline points="744.5,1332.5 735,1332.5 735,1399 715,1399" stroke-width="2.4" />
<text transform="translate(754.5,1252.1) rotate(-90)" font-size="16.5" textLength="45.3" lengthAdjust="spacingAndGlyphs">V82.2</text>
<rect x="675" y="1372" width="40" height="57.5" stroke-width="2.4" fill="#fff"/>
<text transform="translate(693,1426.1) rotate(-90)" font-size="16.5" textLength="8.8" lengthAdjust="spacingAndGlyphs">1</text>
<text transform="translate(650.5,1391.1) rotate(-90)" font-size="16.5" textLength="37.8" lengthAdjust="spacingAndGlyphs">V87.1</text>
<polyline points="675,1420 640.5,1420 640.5,1496" stroke-width="2.4" />
<circle cx="662.5" cy="1420" r="4.3" fill="#000" stroke="none"/>
<polyline points="662.5,1420 662.5,1431" stroke-width="2.4" />
<rect x="655" y="1431" width="15" height="30.5" stroke-width="2.4" fill="#fff"/>
<polyline points="662.5,1461.5 662.5,1467.5 641,1467.5" stroke-width="2.4" />
<circle cx="641" cy="1467.5" r="4.3" fill="#000" stroke="none"/>
<circle cx="640" cy="1496" r="4.3" fill="#000" stroke="none"/>
<rect x="628" y="1444" width="24" height="8.5" fill="#fff" stroke="none"/>
<polyline points="629.5,1444.7 650.5,1444.7" stroke-width="2.2" />
<polyline points="629.5,1451.7 650.5,1451.7" stroke-width="2.2" />
<text transform="translate(623,1456.1) rotate(-90)" font-size="16.5" textLength="16.8" lengthAdjust="spacingAndGlyphs">C1</text>
<text transform="translate(690.5,1452.1) rotate(-90)" font-size="16.5" textLength="20.3" lengthAdjust="spacingAndGlyphs">R1</text>
<polyline points="618,1477 675,1477" stroke-width="2.4" />
<rect x="675" y="1457.5" width="41" height="40.5" stroke-width="2.4" fill="#fff"/>
<text transform="translate(691.5,1496.1) rotate(-90)" font-size="16.5" textLength="8.8" lengthAdjust="spacingAndGlyphs">1</text>
<circle cx="716" cy="1477" r="5.3" fill="none" stroke-width="1.1"/>
<polyline points="716,1477 742,1477" stroke-width="2.4" />
<text transform="translate(669.5,1517.1) rotate(-90)" font-size="16.5" textLength="37.8" lengthAdjust="spacingAndGlyphs">V84.1</text>
<rect x="742" y="1446.5" width="41" height="40.5" stroke-width="2.4" fill="#fff"/>
<text transform="translate(760,1485.6) rotate(-90)" font-size="16.5" textLength="8.8" lengthAdjust="spacingAndGlyphs">1</text>
<text transform="translate(749.5,1442.1) rotate(-90)" font-size="16.5" textLength="45.3" lengthAdjust="spacingAndGlyphs">V81.3</text>
<polyline points="783,1465.5 821,1465.5" stroke-width="2.4" />
<circle cx="796" cy="1465.5" r="4.3" fill="#000" stroke="none"/>
<polygon points="806,1465.5 816,1460.5 816,1470.5" fill="#000" stroke="none"/>
<circle cx="838.5" cy="1465.5" r="16.6" fill="#fff" stroke-width="2.6"/>
<text transform="translate(844.44,1465.5) rotate(-90)" font-size="18" text-anchor="middle">9</text>
<text transform="translate(874.5,1486.1) rotate(-90)" font-size="16.5" textLength="42.8" lengthAdjust="spacingAndGlyphs">Рис.4</text>
<polyline points="753,1366 753,1386" stroke-width="2.4" />
<polyline points="753,1376 771,1376" stroke-width="2.4" />
<polyline points="779,1376 797,1376" stroke-width="2.4" />
<polyline points="771,1366 771,1386" stroke-width="2.4" />
<polyline points="779,1366 779,1386" stroke-width="2.4" />
<circle cx="796.5" cy="1376" r="4.3" fill="#000" stroke="none"/>
<text transform="translate(771.5,1411.1) rotate(-90)" font-size="16.5" textLength="21.8" lengthAdjust="spacingAndGlyphs">C2</text>
<rect x="789.5" y="1407" width="14.5" height="30.5" stroke-width="2.4" fill="#fff"/>
<text transform="translate(785.5,1437.1) rotate(-90)" font-size="16.5" textLength="21.8" lengthAdjust="spacingAndGlyphs">R2</text>
<circle cx="819.5" cy="1376" r="4.3" fill="#000" stroke="none"/>
<polyline points="819.5,1376 819.5,1332.5 836,1332.5" stroke-width="2.4" />
<text transform="translate(825,1418.6) rotate(-90)" font-size="16.5" textLength="36.8" lengthAdjust="spacingAndGlyphs">-12V</text>
<rect x="836" y="1287.5" width="38" height="55.5" stroke-width="2.4" fill="#fff"/>
<text transform="translate(853,1340.1) rotate(-90)" font-size="16.5" textLength="13.8" lengthAdjust="spacingAndGlyphs">&amp;</text>
<text transform="translate(850.5,1390.1) rotate(-90)" font-size="16.5" textLength="45.8" lengthAdjust="spacingAndGlyphs">V85.1</text>
<polyline points="874,1313 886,1313" stroke-width="2.4" />
<rect x="886" y="1294" width="41" height="40" stroke-width="2.4" fill="#fff"/>
<text transform="translate(904.5,1331.1) rotate(-90)" font-size="16.5" textLength="8.8" lengthAdjust="spacingAndGlyphs">1</text>
<polygon points="891.7,1306.3 904.7,1306.3 898.2,1299.9" fill="#fff" stroke-width="1.2" stroke-linejoin="miter"/>
<circle cx="927" cy="1313" r="5.3" fill="none" stroke-width="1.1"/>
<polyline points="927,1313 942,1313" stroke-width="2.4" />
<rect x="942" y="1294" width="17.5" height="39" stroke-width="2.4" fill="#fff"/>
<polyline points="959.5,1313 972.5,1313" stroke-width="2.4" />
<circle cx="972.5" cy="1313" r="4.3" fill="#000" stroke="none"/>
<text transform="translate(901.5,1383.6) rotate(-90)" font-size="16.5" textLength="32.3" lengthAdjust="spacingAndGlyphs">V94</text>
<text transform="translate(924.5,1393.6) rotate(-90)" font-size="16.5" textLength="53.3" lengthAdjust="spacingAndGlyphs">(1R43)</text>
<text transform="translate(955.5,1372.1) rotate(-90)" font-size="16.5" textLength="28.8" lengthAdjust="spacingAndGlyphs">d1.2</text>
<polygon points="90.5,1574.0 98.9,1609.2 118.8,1578.3 115.0,1614.4 144.3,1590.9 128.7,1624.3 164.5,1610.5 138.6,1638.0 177.5,1635.2 143.8,1654.1 182.0,1662.5 143.8,1670.9 177.5,1689.8 138.6,1687.0 164.5,1714.5 128.7,1700.7 144.3,1734.1 115.0,1710.6 118.8,1746.7 98.9,1715.8 90.5,1751.0 82.1,1715.8 62.2,1746.7 66.0,1710.6 36.7,1734.1 52.3,1700.7 16.5,1714.5 42.4,1687.0 3.5,1689.8 37.2,1670.9 -1.0,1662.5 37.2,1654.1 3.5,1635.2 42.4,1638.0 16.5,1610.5 52.3,1624.3 36.7,1590.9 66.0,1614.4 62.2,1578.3 82.1,1609.2" fill="#6aacd0" stroke="none"/>
<path d="M41.8,1662.5 A48.7,48.7 0 0 1 139.2,1662.5 Z" fill="#fff" stroke="none"/>
<defs><clipPath id="ct"><rect x="180" y="1590" width="1060" height="72.5"/></clipPath><clipPath id="cb"><rect x="180" y="1662.5" width="1060" height="80"/></clipPath></defs>
<g clip-path="url(#ct)" stroke-linejoin="round" fill="#fff" stroke="#6aacd0" stroke-width="3"><path d="M231.3,1613.7C231.3,1613.7 223.3,1614.2 219.7,1615.7C214.9,1617.7 210.5,1620.5 206.8,1624.1C203.4,1627.3 200.9,1631.4 199.0,1635.7C197.8,1638.5 197.5,1641.7 197.7,1644.7C198.1,1648.7 199.1,1652.8 201.0,1656.3C203.0,1660.2 205.9,1663.8 209.4,1666.6C213.2,1669.8 217.9,1671.5 222.3,1673.7C226.1,1675.8 230.3,1677.1 233.9,1679.5C236.6,1681.4 239.2,1683.8 241.0,1686.6C242.3,1688.7 243.1,1691.3 242.9,1693.7C242.7,1695.9 241.5,1698.3 239.7,1699.5C237.3,1701.3 231.3,1702.1 231.3,1702.1L231.3,1711.8C231.3,1711.8 238.3,1712.1 241.6,1711.2C246.2,1709.9 250.7,1708.1 254.5,1705.4C258.2,1702.6 261.2,1699.0 263.5,1695.0C265.8,1691.1 267.4,1686.6 268.1,1682.1C268.5,1678.7 268.0,1675.1 266.8,1671.8C265.5,1668.4 263.5,1665.3 261.0,1662.8C258.0,1659.8 254.2,1657.8 250.6,1655.7C246.9,1653.5 242.9,1651.9 239.0,1649.9C235.5,1648.0 231.8,1646.5 228.7,1644.1C226.3,1642.2 224.3,1639.7 222.9,1637.0C221.9,1635.0 221.6,1632.6 222.0,1630.5C222.5,1628.3 223.8,1626.2 225.5,1624.7C227.1,1623.3 231.3,1622.1 231.3,1622.1L231.3,1613.7Z"/><path d="M235.2,1614.4C235.2,1614.4 242.1,1615.6 245.5,1616.6C248.1,1617.3 253.2,1619.5 253.2,1619.5C253.2,1619.5 256.0,1616.4 257.7,1615.3C258.9,1614.6 260.4,1614.0 261.6,1614.4C263.0,1614.9 264.3,1616.2 264.6,1617.6C265.4,1622.3 264.8,1627.1 264.8,1631.8C264.8,1636.1 265.7,1640.6 264.6,1644.7C264.1,1646.6 262.2,1648.6 260.3,1648.6C258.4,1648.6 257.0,1646.4 256.1,1644.7C254.8,1642.4 255.1,1639.3 253.9,1637.0C252.2,1633.9 250.2,1630.8 247.4,1628.6C243.8,1625.7 235.2,1622.1 235.2,1622.1L235.2,1614.4Z"/><path d="M228.1,1711.8C228.1,1711.8 221.6,1710.6 218.4,1709.9C215.3,1709.1 212.5,1707.0 209.4,1707.3C207.0,1707.5 205.9,1711.0 203.5,1711.2C201.5,1711.3 199.0,1709.9 198.4,1707.9C196.9,1703.4 197.8,1698.5 197.7,1693.7C197.7,1688.6 196.7,1683.3 198.0,1678.3C198.6,1676.1 200.7,1673.9 202.9,1673.7C205.0,1673.6 206.7,1675.9 207.8,1677.6C209.4,1680.1 209.3,1683.4 210.6,1686.0C212.4,1689.6 214.1,1693.6 217.1,1696.3C220.1,1699.1 228.1,1702.1 228.1,1702.1L228.1,1711.8Z"/><path d="M273.2,1615.3C285.1,1615.1 308.7,1615.3 308.7,1615.3L308.7,1709.9C308.7,1709.9 285.1,1710.1 273.2,1709.9C272.3,1709.9 271.3,1709.8 270.6,1709.2C269.9,1708.6 269.5,1707.6 269.5,1706.6C269.5,1705.6 269.8,1704.4 270.6,1703.8C271.9,1702.8 273.7,1702.7 275.2,1702.1C276.2,1701.7 278.4,1700.8 278.4,1700.8L278.4,1624.1C278.4,1624.1 276.2,1623.2 275.2,1622.8C273.7,1622.2 271.9,1622.2 270.6,1621.2C269.8,1620.6 269.5,1619.3 269.5,1618.3C269.5,1617.4 269.9,1616.4 270.6,1615.8C271.3,1615.3 272.3,1615.3 273.2,1615.3Z"/><path d="M312.9,1615.4L342.3,1615.4C342.3,1615.4 342.7,1625.2 342.7,1630.2C342.8,1634.2 343.6,1638.3 342.7,1642.3C342.4,1643.8 341.0,1645.3 339.5,1645.5C337.9,1645.8 336.2,1644.7 335.2,1643.4C333.6,1641.5 333.5,1638.8 332.3,1636.6C330.6,1633.8 329.0,1630.8 326.6,1628.6C324.6,1626.7 321.9,1625.5 319.4,1624.5C317.3,1623.8 312.9,1623.4 312.9,1623.4L312.9,1615.4Z"/><path d="M312.9,1657.6C312.9,1657.6 317.0,1655.9 318.5,1654.4C320.3,1652.6 321.2,1650.1 322.6,1647.9C323.6,1646.3 324.0,1643.9 325.8,1643.1C327.0,1642.5 329.2,1643.4 329.5,1644.7C330.8,1650.5 330.1,1656.5 330.2,1662.5C330.2,1667.6 331.0,1672.8 329.8,1677.8C329.4,1679.4 327.5,1681.0 325.8,1681.0C324.1,1681.0 322.7,1679.2 321.8,1677.8C320.4,1675.6 320.4,1672.9 319.4,1670.5C318.7,1669.1 318.1,1667.5 316.9,1666.5C315.8,1665.5 312.9,1664.9 312.9,1664.9L312.9,1657.6Z"/><path d="M312.9,1710.0L312.9,1701.2C312.9,1701.2 318.5,1700.1 321.0,1698.7C324.3,1696.8 327.3,1694.3 329.8,1691.5C331.9,1689.1 332.8,1685.9 334.7,1683.4C335.8,1681.9 336.8,1679.7 338.7,1679.4C340.4,1679.1 342.7,1680.2 343.2,1681.8C344.6,1686.4 343.7,1691.5 343.9,1696.3C344.1,1700.9 344.4,1710.0 344.4,1710.0L312.9,1710.0Z"/><path d="M843.7,1615.3C855.6,1615.1 879.2,1615.3 879.2,1615.3L879.2,1709.9C879.2,1709.9 855.6,1710.1 843.7,1709.9C842.8,1709.9 841.8,1709.8 841.1,1709.2C840.4,1708.6 840.0,1707.6 840.0,1706.6C840.0,1705.6 840.3,1704.4 841.1,1703.8C842.4,1702.8 844.2,1702.7 845.7,1702.1C846.7,1701.7 848.9,1700.8 848.9,1700.8L848.9,1624.1C848.9,1624.1 846.7,1623.2 845.7,1622.8C844.2,1622.2 842.4,1622.2 841.1,1621.2C840.3,1620.6 840.0,1619.3 840.0,1618.3C840.0,1617.4 840.4,1616.4 841.1,1615.8C841.8,1615.3 842.8,1615.3 843.7,1615.3Z"/><path d="M883.4,1615.4L912.8,1615.4C912.8,1615.4 913.2,1625.2 913.2,1630.2C913.3,1634.2 914.1,1638.3 913.2,1642.3C912.9,1643.8 911.5,1645.3 910.0,1645.5C908.4,1645.8 906.7,1644.7 905.7,1643.4C904.1,1641.5 904.0,1638.8 902.8,1636.6C901.1,1633.8 899.5,1630.8 897.1,1628.6C895.1,1626.7 892.4,1625.5 889.9,1624.5C887.8,1623.8 883.4,1623.4 883.4,1623.4L883.4,1615.4Z"/><path d="M883.4,1657.6C883.4,1657.6 887.5,1655.9 889.0,1654.4C890.8,1652.6 891.7,1650.1 893.1,1647.9C894.1,1646.3 894.5,1643.9 896.3,1643.1C897.5,1642.5 899.7,1643.4 900.0,1644.7C901.3,1650.5 900.6,1656.5 900.7,1662.5C900.7,1667.6 901.5,1672.8 900.3,1677.8C899.9,1679.4 898.0,1681.0 896.3,1681.0C894.6,1681.0 893.2,1679.2 892.3,1677.8C890.9,1675.6 890.9,1672.9 889.9,1670.5C889.2,1669.1 888.6,1667.5 887.4,1666.5C886.3,1665.5 883.4,1664.9 883.4,1664.9L883.4,1657.6Z"/><path d="M883.4,1710.0L883.4,1701.2C883.4,1701.2 889.0,1700.1 891.5,1698.7C894.8,1696.8 897.8,1694.3 900.3,1691.5C902.4,1689.1 903.3,1685.9 905.2,1683.4C906.3,1681.9 907.3,1679.7 909.2,1679.4C910.9,1679.1 913.2,1680.2 913.7,1681.8C915.1,1686.4 914.2,1691.5 914.4,1696.3C914.6,1700.9 914.9,1710.0 914.9,1710.0L883.4,1710.0Z"/><path d="M373.4,1615.4C382.5,1614.7 400.8,1615.4 400.8,1615.4L421.0,1701.2C421.0,1701.2 424.5,1701.7 425.8,1702.8C427.0,1703.7 427.9,1705.3 427.7,1706.8C427.6,1708.2 426.4,1709.9 425.0,1710.0C411.6,1711.0 398.1,1711.0 384.7,1710.0C383.3,1709.9 382.1,1708.2 381.9,1706.8C381.8,1705.3 382.8,1703.8 383.9,1702.8C384.9,1701.8 387.9,1701.2 387.9,1701.2L385.5,1686.6L365.3,1686.6L366.9,1677.0L383.9,1677.0L371.0,1622.1C371.0,1622.1 370.1,1619.0 370.6,1617.6C371.0,1616.5 372.2,1615.4 373.4,1615.4Z"/><path d="M369.4,1631.5C371.4,1634.7 372.9,1642.3 372.9,1642.3L361.0,1694.4C361.0,1694.4 362.2,1699.0 363.7,1700.8C364.9,1702.3 367.4,1702.1 368.5,1703.6C369.4,1704.6 369.5,1706.3 369.0,1707.6C368.6,1708.8 367.4,1709.9 366.1,1710.0C358.9,1710.7 344.4,1710.0 344.4,1710.0L344.4,1702.0L347.1,1699.5L367.4,1633.7C367.4,1633.7 368.8,1630.6 369.4,1631.5Z"/><path d="M618.4,1615.4C627.5,1614.7 645.8,1615.4 645.8,1615.4L666.0,1701.2C666.0,1701.2 669.5,1701.7 670.8,1702.8C672.0,1703.7 672.9,1705.3 672.7,1706.8C672.6,1708.2 671.4,1709.9 670.0,1710.0C656.6,1711.0 643.1,1711.0 629.7,1710.0C628.3,1709.9 627.1,1708.2 626.9,1706.8C626.8,1705.3 627.8,1703.8 628.9,1702.8C629.9,1701.8 632.9,1701.2 632.9,1701.2L630.5,1686.6L610.3,1686.6L611.9,1677.0L628.9,1677.0L616.0,1622.1C616.0,1622.1 615.1,1619.0 615.6,1617.6C616.0,1616.5 617.2,1615.4 618.4,1615.4Z"/><path d="M614.4,1631.5C616.4,1634.7 617.9,1642.3 617.9,1642.3L606.0,1694.4C606.0,1694.4 607.2,1699.0 608.7,1700.8C609.9,1702.3 612.4,1702.1 613.5,1703.6C614.4,1704.6 614.5,1706.3 614.0,1707.6C613.6,1708.8 612.4,1709.9 611.1,1710.0C603.9,1710.7 589.4,1710.0 589.4,1710.0L589.4,1702.0L592.1,1699.5L612.4,1633.7C612.4,1633.7 613.8,1630.6 614.4,1631.5Z"/><path d="M421.3,1615.4L440.6,1615.4L440.6,1622.9C440.6,1622.9 437.1,1627.6 435.8,1630.2C434.2,1633.5 433.3,1637.2 431.9,1640.7C431.1,1642.9 430.9,1645.5 429.4,1647.3C428.4,1648.5 426.5,1649.4 425.0,1649.1C423.4,1648.7 422.1,1647.1 421.6,1645.5C420.8,1643.2 421.3,1638.3 421.3,1638.3L421.3,1615.4Z"/><path d="M444.4,1615.4L477.4,1615.4L477.4,1700.8C477.4,1700.8 480.9,1701.5 482.3,1702.5C483.6,1703.4 485.4,1704.6 485.5,1706.3C485.6,1707.9 484.1,1709.9 482.6,1710.0C468.3,1711.2 453.8,1711.2 439.5,1710.0C437.9,1709.9 436.4,1707.9 436.5,1706.3C436.5,1704.6 438.3,1703.4 439.7,1702.5C441.0,1701.5 444.4,1700.8 444.4,1700.8L444.4,1615.4Z"/><path d="M481.0,1615.4L500.3,1615.4L500.3,1638.3C500.3,1638.3 500.8,1643.2 500.0,1645.5C499.5,1647.1 498.2,1648.7 496.6,1649.1C495.1,1649.4 493.3,1648.5 492.3,1647.3C490.8,1645.5 490.5,1642.9 489.7,1640.7C488.4,1637.2 487.4,1633.5 485.8,1630.2C484.5,1627.6 481.0,1622.9 481.0,1622.9L481.0,1615.4Z"/><path d="M503.9,1615.4C515.6,1614.2 539.4,1615.4 539.4,1615.4L539.4,1700.8C539.4,1700.8 543.0,1701.5 544.5,1702.5C546.0,1703.4 547.9,1704.6 548.1,1706.3C548.2,1707.9 546.7,1709.9 545.2,1710.0C531.2,1711.2 517.0,1711.2 503.1,1710.0C501.5,1709.9 500.2,1707.9 500.2,1706.3C500.2,1704.7 501.7,1703.4 503.1,1702.5C504.5,1701.5 507.9,1700.8 507.9,1700.8L507.9,1624.5C507.9,1624.5 504.4,1623.9 503.1,1622.9C501.9,1622.1 500.5,1620.7 500.6,1619.2C500.8,1617.6 502.2,1615.5 503.9,1615.4Z"/><path d="M543.4,1615.4C543.4,1615.4 554.7,1614.5 560.3,1615.4C564.8,1616.0 569.5,1617.1 573.2,1619.7C576.8,1622.3 579.5,1626.2 581.3,1630.2C582.7,1633.4 583.1,1637.2 582.6,1640.7C582.0,1644.9 580.6,1649.3 578.1,1652.8C575.7,1656.0 571.9,1658.0 568.4,1660.0C566.2,1661.3 561.1,1662.8 561.1,1662.8C561.1,1662.8 567.4,1664.6 570.0,1666.5C573.2,1668.9 576.1,1671.9 578.1,1675.4C580.0,1678.8 580.3,1682.9 581.3,1686.6C581.9,1689.0 581.1,1692.2 582.9,1693.9C584.0,1694.9 585.4,1691.5 586.9,1691.8C588.9,1692.2 591.0,1693.6 591.8,1695.5C592.7,1697.8 592.5,1700.7 591.3,1702.8C589.6,1705.6 586.8,1707.9 583.7,1709.2C579.7,1711.0 575.2,1711.9 570.8,1711.6C566.3,1711.4 561.4,1710.5 557.9,1707.6C554.7,1704.9 553.3,1700.4 552.3,1696.3C550.8,1690.6 551.6,1684.4 550.6,1678.6C550.2,1675.8 549.8,1672.8 548.2,1670.5C547.2,1669.0 543.4,1668.1 543.4,1668.1L543.4,1660.8C543.4,1660.8 547.8,1659.0 549.4,1657.3C550.9,1655.6 552.0,1653.4 552.3,1651.2C553.0,1645.8 553.0,1640.4 552.3,1635.0C551.9,1632.2 550.7,1629.3 549.0,1627.0C547.7,1625.1 543.4,1622.9 543.4,1622.9L543.4,1615.4Z"/><path d="M918.9,1615.4C930.6,1614.2 954.4,1615.4 954.4,1615.4L954.4,1700.8C954.4,1700.8 958.0,1701.5 959.5,1702.5C961.0,1703.4 962.9,1704.6 963.1,1706.3C963.2,1707.9 961.7,1709.9 960.2,1710.0C946.2,1711.2 932.0,1711.2 918.1,1710.0C916.5,1709.9 915.2,1707.9 915.2,1706.3C915.2,1704.7 916.7,1703.4 918.1,1702.5C919.5,1701.5 922.9,1700.8 922.9,1700.8L922.9,1624.5C922.9,1624.5 919.4,1623.9 918.1,1622.9C916.9,1622.1 915.5,1620.7 915.6,1619.2C915.8,1617.6 917.2,1615.5 918.9,1615.4Z"/><path d="M958.4,1615.4C958.4,1615.4 969.7,1614.5 975.3,1615.4C979.8,1616.0 984.5,1617.1 988.2,1619.7C991.8,1622.3 994.5,1626.2 996.3,1630.2C997.7,1633.4 998.1,1637.2 997.6,1640.7C997.0,1644.9 995.6,1649.3 993.1,1652.8C990.7,1656.0 986.9,1658.0 983.4,1660.0C981.2,1661.3 976.1,1662.8 976.1,1662.8C976.1,1662.8 982.4,1664.6 985.0,1666.5C988.2,1668.9 991.1,1671.9 993.1,1675.4C995.0,1678.8 995.3,1682.9 996.3,1686.6C996.9,1689.0 996.1,1692.2 997.9,1693.9C999.0,1694.9 1000.4,1691.5 1001.9,1691.8C1003.9,1692.2 1006.0,1693.6 1006.8,1695.5C1007.7,1697.8 1007.5,1700.7 1006.3,1702.8C1004.6,1705.6 1001.8,1707.9 998.7,1709.2C994.7,1711.0 990.2,1711.9 985.8,1711.6C981.3,1711.4 976.4,1710.5 972.9,1707.6C969.7,1704.9 968.3,1700.4 967.3,1696.3C965.8,1690.6 966.6,1684.4 965.6,1678.6C965.2,1675.8 964.8,1672.8 963.2,1670.5C962.2,1669.0 958.4,1668.1 958.4,1668.1L958.4,1660.8C958.4,1660.8 962.8,1659.0 964.4,1657.3C965.9,1655.6 967.0,1653.4 967.3,1651.2C968.0,1645.8 968.0,1640.4 967.3,1635.0C966.9,1632.2 965.7,1629.3 964.0,1627.0C962.7,1625.1 958.4,1622.9 958.4,1622.9L958.4,1615.4Z"/><path d="M1047.8,1615.4C1059.5,1614.2 1083.3,1615.4 1083.3,1615.4L1083.3,1700.8C1083.3,1700.8 1086.9,1701.5 1088.4,1702.5C1089.9,1703.4 1091.8,1704.6 1092.0,1706.3C1092.1,1707.9 1090.6,1709.9 1089.1,1710.0C1075.1,1711.2 1060.9,1711.2 1047.0,1710.0C1045.4,1709.9 1044.1,1707.9 1044.1,1706.3C1044.1,1704.7 1045.6,1703.4 1047.0,1702.5C1048.4,1701.5 1051.8,1700.8 1051.8,1700.8L1051.8,1624.5C1051.8,1624.5 1048.3,1623.9 1047.0,1622.9C1045.8,1622.1 1044.4,1620.7 1044.5,1619.2C1044.7,1617.6 1046.1,1615.5 1047.8,1615.4Z"/><path d="M1087.3,1615.4C1087.3,1615.4 1098.6,1614.5 1104.2,1615.4C1108.7,1616.0 1113.4,1617.1 1117.1,1619.7C1120.7,1622.3 1123.4,1626.2 1125.2,1630.2C1126.6,1633.4 1127.0,1637.2 1126.5,1640.7C1125.9,1644.9 1124.5,1649.3 1122.0,1652.8C1119.6,1656.0 1115.8,1658.0 1112.3,1660.0C1110.1,1661.3 1105.0,1662.8 1105.0,1662.8C1105.0,1662.8 1111.3,1664.6 1113.9,1666.5C1117.1,1668.9 1120.0,1671.9 1122.0,1675.4C1123.9,1678.8 1124.2,1682.9 1125.2,1686.6C1125.8,1689.0 1125.0,1692.2 1126.8,1693.9C1127.9,1694.9 1129.3,1691.5 1130.8,1691.8C1132.8,1692.2 1134.9,1693.6 1135.7,1695.5C1136.6,1697.8 1136.4,1700.7 1135.2,1702.8C1133.5,1705.6 1130.7,1707.9 1127.6,1709.2C1123.6,1711.0 1119.1,1711.9 1114.7,1711.6C1110.2,1711.4 1105.3,1710.5 1101.8,1707.6C1098.6,1704.9 1097.2,1700.4 1096.2,1696.3C1094.7,1690.6 1095.5,1684.4 1094.5,1678.6C1094.1,1675.8 1093.7,1672.8 1092.1,1670.5C1091.1,1669.0 1087.3,1668.1 1087.3,1668.1L1087.3,1660.8C1087.3,1660.8 1091.7,1659.0 1093.3,1657.3C1094.8,1655.6 1095.9,1653.4 1096.2,1651.2C1096.9,1645.8 1096.9,1640.4 1096.2,1635.0C1095.8,1632.2 1094.6,1629.3 1092.9,1627.0C1091.6,1625.1 1087.3,1622.9 1087.3,1622.9L1087.3,1615.4Z"/><path d="M708.9,1613.3C708.9,1613.3 700.6,1613.4 696.8,1614.9C691.5,1616.9 686.5,1619.9 682.3,1623.7C677.7,1627.9 673.5,1632.7 671.0,1638.3C668.3,1644.3 667.4,1651.0 666.9,1657.6C666.6,1663.0 667.2,1668.5 668.5,1673.7C670.2,1679.9 672.3,1686.1 675.8,1691.5C679.1,1696.6 683.8,1700.8 688.7,1704.4C692.5,1707.2 697.1,1708.9 701.6,1710.5C703.9,1711.3 708.9,1711.6 708.9,1711.6L708.9,1702.0C708.9,1702.0 705.1,1699.8 704.0,1697.9C702.7,1695.5 701.9,1689.9 701.9,1689.9L701.9,1635.0C701.9,1635.0 702.6,1628.8 704.0,1626.2C705.0,1624.3 708.9,1622.1 708.9,1622.1L708.9,1613.3Z"/><path d="M713.2,1613.7C713.2,1613.7 718.4,1615.1 721.0,1616.0C724.3,1617.2 730.6,1620.2 730.6,1620.2C730.6,1620.2 733.6,1616.4 735.5,1615.0C736.6,1614.2 738.2,1613.3 739.5,1613.7C741.0,1614.2 742.4,1615.7 742.7,1617.3C743.7,1622.6 743.1,1628.0 743.2,1633.4C743.3,1638.3 743.9,1643.2 743.2,1647.9C742.9,1649.8 742.0,1651.9 740.3,1652.8C738.9,1653.5 736.8,1653.0 735.5,1652.0C733.8,1650.6 733.1,1648.3 732.3,1646.3C730.9,1643.2 730.6,1639.7 729.0,1636.6C727.3,1633.2 725.4,1629.6 722.6,1627.0C720.0,1624.6 713.2,1622.1 713.2,1622.1L713.2,1613.7Z"/><path d="M713.2,1711.6L713.2,1702.0C713.2,1702.0 719.8,1699.9 722.6,1697.9C725.7,1695.8 728.3,1692.9 730.6,1689.9C732.1,1688.0 732.3,1685.2 733.9,1683.4C735.0,1682.1 736.7,1680.9 738.4,1681.0C740.3,1681.2 742.4,1682.5 743.2,1684.2C744.1,1685.9 743.4,1688.1 742.7,1689.9C741.3,1693.8 739.8,1697.9 737.1,1701.2C734.5,1704.3 731.1,1706.8 727.4,1708.4C723.0,1710.4 713.2,1711.6 713.2,1711.6Z"/><path d="M749.2,1615.4C762.3,1614.2 775.6,1614.2 788.7,1615.4C790.5,1615.5 792.3,1617.5 792.3,1619.2C792.3,1621.0 790.2,1622.1 788.7,1623.1C787.3,1624.0 783.9,1624.7 783.9,1624.7L783.9,1700.5C783.9,1700.5 787.3,1701.2 788.7,1702.1C790.2,1703.1 792.3,1704.2 792.3,1706.0C792.3,1707.8 790.5,1709.9 788.7,1710.0C775.6,1711.3 762.3,1711.3 749.2,1710.0C747.5,1709.9 746.0,1707.7 746.0,1706.0C746.0,1704.3 747.8,1703.0 749.2,1702.1C750.8,1701.1 754.5,1700.5 754.5,1700.5L754.5,1624.7C754.5,1624.7 750.8,1624.1 749.2,1623.1C747.8,1622.2 746.0,1620.9 746.0,1619.2C746.0,1617.5 747.5,1615.5 749.2,1615.4Z"/><path d="M804.0,1615.4C813.1,1614.1 822.4,1614.2 831.5,1615.4C833.2,1615.6 835.2,1617.4 835.2,1619.2C835.2,1621.0 832.9,1622.1 831.5,1623.1C830.0,1624.1 826.6,1625.4 826.6,1625.4L810.5,1643.9L835.5,1700.5C835.5,1700.5 838.2,1701.9 839.0,1703.1C839.8,1704.2 840.4,1705.7 840.0,1707.0C839.6,1708.3 838.5,1709.9 837.1,1710.0C823.4,1711.0 809.6,1711.0 796.0,1710.0C794.5,1709.9 793.2,1708.4 792.9,1707.0C792.6,1705.6 793.5,1704.2 794.4,1703.1C795.2,1702.1 797.6,1700.8 797.6,1700.8L788.7,1664.1L789.0,1659.2C789.0,1659.2 802.9,1641.9 808.9,1632.6C810.0,1630.9 810.8,1628.5 810.0,1626.6C809.3,1624.8 806.7,1624.6 805.2,1623.4C803.7,1622.3 801.4,1621.4 801.1,1619.5C800.9,1617.9 802.3,1615.6 804.0,1615.4Z"/><path d="M1136.1,1615.4C1149.4,1614.2 1162.7,1614.2 1176.0,1615.4C1177.7,1615.5 1179.7,1617.4 1179.7,1619.2C1179.7,1621.0 1177.4,1622.1 1176.0,1623.1C1174.5,1624.1 1171.1,1625.0 1171.1,1625.0C1171.1,1625.0 1170.7,1664.0 1171.6,1683.4C1171.8,1687.3 1172.6,1691.3 1174.4,1694.7C1175.8,1697.4 1180.8,1701.2 1180.8,1701.2L1180.8,1711.6C1180.8,1711.6 1168.2,1711.2 1162.3,1709.2C1157.4,1707.6 1152.9,1704.7 1149.4,1701.2C1146.3,1698.1 1144.4,1694.0 1142.9,1689.9C1141.6,1686.3 1141.4,1682.4 1141.3,1678.6C1140.8,1660.7 1141.3,1625.0 1141.3,1625.0C1141.3,1625.0 1137.6,1624.1 1136.1,1623.1C1134.7,1622.1 1132.7,1620.9 1132.7,1619.2C1132.7,1617.5 1134.4,1615.5 1136.1,1615.4Z"/><path d="M1193.2,1615.4C1201.1,1614.2 1209.2,1614.2 1217.1,1615.4C1218.8,1615.6 1220.6,1617.5 1220.6,1619.2C1220.6,1621.0 1218.4,1621.9 1217.1,1623.1C1215.0,1625.0 1212.1,1626.2 1210.6,1628.6C1208.9,1631.4 1208.2,1634.9 1208.1,1638.3C1207.8,1646.3 1209.2,1654.4 1209.4,1662.5C1209.5,1669.4 1210.0,1676.5 1209.0,1683.4C1208.3,1688.5 1206.8,1693.5 1204.2,1697.9C1201.8,1702.0 1198.4,1705.7 1194.5,1708.4C1191.5,1710.5 1184.0,1711.6 1184.0,1711.6L1184.0,1702.0C1184.0,1702.0 1190.7,1699.0 1192.9,1696.3C1196.0,1692.6 1198.1,1688.1 1199.4,1683.4C1201.1,1676.6 1201.3,1669.5 1201.8,1662.5C1202.3,1654.4 1203.1,1646.3 1202.6,1638.3C1202.4,1634.9 1201.4,1631.5 1199.7,1628.6C1198.3,1626.3 1195.6,1625.3 1193.7,1623.4C1192.5,1622.2 1190.6,1621.0 1190.5,1619.2C1190.4,1617.6 1191.7,1615.6 1193.2,1615.4Z"/><circle cx="1022.7" cy="1699" r="13.5"/></g>
<g clip-path="url(#cb)" stroke-linejoin="round" fill="#6aacd0" stroke="#6aacd0" stroke-width="1.6"><path d="M231.3,1613.7C231.3,1613.7 223.3,1614.2 219.7,1615.7C214.9,1617.7 210.5,1620.5 206.8,1624.1C203.4,1627.3 200.9,1631.4 199.0,1635.7C197.8,1638.5 197.5,1641.7 197.7,1644.7C198.1,1648.7 199.1,1652.8 201.0,1656.3C203.0,1660.2 205.9,1663.8 209.4,1666.6C213.2,1669.8 217.9,1671.5 222.3,1673.7C226.1,1675.8 230.3,1677.1 233.9,1679.5C236.6,1681.4 239.2,1683.8 241.0,1686.6C242.3,1688.7 243.1,1691.3 242.9,1693.7C242.7,1695.9 241.5,1698.3 239.7,1699.5C237.3,1701.3 231.3,1702.1 231.3,1702.1L231.3,1711.8C231.3,1711.8 238.3,1712.1 241.6,1711.2C246.2,1709.9 250.7,1708.1 254.5,1705.4C258.2,1702.6 261.2,1699.0 263.5,1695.0C265.8,1691.1 267.4,1686.6 268.1,1682.1C268.5,1678.7 268.0,1675.1 266.8,1671.8C265.5,1668.4 263.5,1665.3 261.0,1662.8C258.0,1659.8 254.2,1657.8 250.6,1655.7C246.9,1653.5 242.9,1651.9 239.0,1649.9C235.5,1648.0 231.8,1646.5 228.7,1644.1C226.3,1642.2 224.3,1639.7 222.9,1637.0C221.9,1635.0 221.6,1632.6 222.0,1630.5C222.5,1628.3 223.8,1626.2 225.5,1624.7C227.1,1623.3 231.3,1622.1 231.3,1622.1L231.3,1613.7Z"/><path d="M235.2,1614.4C235.2,1614.4 242.1,1615.6 245.5,1616.6C248.1,1617.3 253.2,1619.5 253.2,1619.5C253.2,1619.5 256.0,1616.4 257.7,1615.3C258.9,1614.6 260.4,1614.0 261.6,1614.4C263.0,1614.9 264.3,1616.2 264.6,1617.6C265.4,1622.3 264.8,1627.1 264.8,1631.8C264.8,1636.1 265.7,1640.6 264.6,1644.7C264.1,1646.6 262.2,1648.6 260.3,1648.6C258.4,1648.6 257.0,1646.4 256.1,1644.7C254.8,1642.4 255.1,1639.3 253.9,1637.0C252.2,1633.9 250.2,1630.8 247.4,1628.6C243.8,1625.7 235.2,1622.1 235.2,1622.1L235.2,1614.4Z"/><path d="M228.1,1711.8C228.1,1711.8 221.6,1710.6 218.4,1709.9C215.3,1709.1 212.5,1707.0 209.4,1707.3C207.0,1707.5 205.9,1711.0 203.5,1711.2C201.5,1711.3 199.0,1709.9 198.4,1707.9C196.9,1703.4 197.8,1698.5 197.7,1693.7C197.7,1688.6 196.7,1683.3 198.0,1678.3C198.6,1676.1 200.7,1673.9 202.9,1673.7C205.0,1673.6 206.7,1675.9 207.8,1677.6C209.4,1680.1 209.3,1683.4 210.6,1686.0C212.4,1689.6 214.1,1693.6 217.1,1696.3C220.1,1699.1 228.1,1702.1 228.1,1702.1L228.1,1711.8Z"/><path d="M273.2,1615.3C285.1,1615.1 308.7,1615.3 308.7,1615.3L308.7,1709.9C308.7,1709.9 285.1,1710.1 273.2,1709.9C272.3,1709.9 271.3,1709.8 270.6,1709.2C269.9,1708.6 269.5,1707.6 269.5,1706.6C269.5,1705.6 269.8,1704.4 270.6,1703.8C271.9,1702.8 273.7,1702.7 275.2,1702.1C276.2,1701.7 278.4,1700.8 278.4,1700.8L278.4,1624.1C278.4,1624.1 276.2,1623.2 275.2,1622.8C273.7,1622.2 271.9,1622.2 270.6,1621.2C269.8,1620.6 269.5,1619.3 269.5,1618.3C269.5,1617.4 269.9,1616.4 270.6,1615.8C271.3,1615.3 272.3,1615.3 273.2,1615.3Z"/><path d="M312.9,1615.4L342.3,1615.4C342.3,1615.4 342.7,1625.2 342.7,1630.2C342.8,1634.2 343.6,1638.3 342.7,1642.3C342.4,1643.8 341.0,1645.3 339.5,1645.5C337.9,1645.8 336.2,1644.7 335.2,1643.4C333.6,1641.5 333.5,1638.8 332.3,1636.6C330.6,1633.8 329.0,1630.8 326.6,1628.6C324.6,1626.7 321.9,1625.5 319.4,1624.5C317.3,1623.8 312.9,1623.4 312.9,1623.4L312.9,1615.4Z"/><path d="M312.9,1657.6C312.9,1657.6 317.0,1655.9 318.5,1654.4C320.3,1652.6 321.2,1650.1 322.6,1647.9C323.6,1646.3 324.0,1643.9 325.8,1643.1C327.0,1642.5 329.2,1643.4 329.5,1644.7C330.8,1650.5 330.1,1656.5 330.2,1662.5C330.2,1667.6 331.0,1672.8 329.8,1677.8C329.4,1679.4 327.5,1681.0 325.8,1681.0C324.1,1681.0 322.7,1679.2 321.8,1677.8C320.4,1675.6 320.4,1672.9 319.4,1670.5C318.7,1669.1 318.1,1667.5 316.9,1666.5C315.8,1665.5 312.9,1664.9 312.9,1664.9L312.9,1657.6Z"/><path d="M312.9,1710.0L312.9,1701.2C312.9,1701.2 318.5,1700.1 321.0,1698.7C324.3,1696.8 327.3,1694.3 329.8,1691.5C331.9,1689.1 332.8,1685.9 334.7,1683.4C335.8,1681.9 336.8,1679.7 338.7,1679.4C340.4,1679.1 342.7,1680.2 343.2,1681.8C344.6,1686.4 343.7,1691.5 343.9,1696.3C344.1,1700.9 344.4,1710.0 344.4,1710.0L312.9,1710.0Z"/><path d="M843.7,1615.3C855.6,1615.1 879.2,1615.3 879.2,1615.3L879.2,1709.9C879.2,1709.9 855.6,1710.1 843.7,1709.9C842.8,1709.9 841.8,1709.8 841.1,1709.2C840.4,1708.6 840.0,1707.6 840.0,1706.6C840.0,1705.6 840.3,1704.4 841.1,1703.8C842.4,1702.8 844.2,1702.7 845.7,1702.1C846.7,1701.7 848.9,1700.8 848.9,1700.8L848.9,1624.1C848.9,1624.1 846.7,1623.2 845.7,1622.8C844.2,1622.2 842.4,1622.2 841.1,1621.2C840.3,1620.6 840.0,1619.3 840.0,1618.3C840.0,1617.4 840.4,1616.4 841.1,1615.8C841.8,1615.3 842.8,1615.3 843.7,1615.3Z"/><path d="M883.4,1615.4L912.8,1615.4C912.8,1615.4 913.2,1625.2 913.2,1630.2C913.3,1634.2 914.1,1638.3 913.2,1642.3C912.9,1643.8 911.5,1645.3 910.0,1645.5C908.4,1645.8 906.7,1644.7 905.7,1643.4C904.1,1641.5 904.0,1638.8 902.8,1636.6C901.1,1633.8 899.5,1630.8 897.1,1628.6C895.1,1626.7 892.4,1625.5 889.9,1624.5C887.8,1623.8 883.4,1623.4 883.4,1623.4L883.4,1615.4Z"/><path d="M883.4,1657.6C883.4,1657.6 887.5,1655.9 889.0,1654.4C890.8,1652.6 891.7,1650.1 893.1,1647.9C894.1,1646.3 894.5,1643.9 896.3,1643.1C897.5,1642.5 899.7,1643.4 900.0,1644.7C901.3,1650.5 900.6,1656.5 900.7,1662.5C900.7,1667.6 901.5,1672.8 900.3,1677.8C899.9,1679.4 898.0,1681.0 896.3,1681.0C894.6,1681.0 893.2,1679.2 892.3,1677.8C890.9,1675.6 890.9,1672.9 889.9,1670.5C889.2,1669.1 888.6,1667.5 887.4,1666.5C886.3,1665.5 883.4,1664.9 883.4,1664.9L883.4,1657.6Z"/><path d="M883.4,1710.0L883.4,1701.2C883.4,1701.2 889.0,1700.1 891.5,1698.7C894.8,1696.8 897.8,1694.3 900.3,1691.5C902.4,1689.1 903.3,1685.9 905.2,1683.4C906.3,1681.9 907.3,1679.7 909.2,1679.4C910.9,1679.1 913.2,1680.2 913.7,1681.8C915.1,1686.4 914.2,1691.5 914.4,1696.3C914.6,1700.9 914.9,1710.0 914.9,1710.0L883.4,1710.0Z"/><path d="M373.4,1615.4C382.5,1614.7 400.8,1615.4 400.8,1615.4L421.0,1701.2C421.0,1701.2 424.5,1701.7 425.8,1702.8C427.0,1703.7 427.9,1705.3 427.7,1706.8C427.6,1708.2 426.4,1709.9 425.0,1710.0C411.6,1711.0 398.1,1711.0 384.7,1710.0C383.3,1709.9 382.1,1708.2 381.9,1706.8C381.8,1705.3 382.8,1703.8 383.9,1702.8C384.9,1701.8 387.9,1701.2 387.9,1701.2L385.5,1686.6L365.3,1686.6L366.9,1677.0L383.9,1677.0L371.0,1622.1C371.0,1622.1 370.1,1619.0 370.6,1617.6C371.0,1616.5 372.2,1615.4 373.4,1615.4Z"/><path d="M369.4,1631.5C371.4,1634.7 372.9,1642.3 372.9,1642.3L361.0,1694.4C361.0,1694.4 362.2,1699.0 363.7,1700.8C364.9,1702.3 367.4,1702.1 368.5,1703.6C369.4,1704.6 369.5,1706.3 369.0,1707.6C368.6,1708.8 367.4,1709.9 366.1,1710.0C358.9,1710.7 344.4,1710.0 344.4,1710.0L344.4,1702.0L347.1,1699.5L367.4,1633.7C367.4,1633.7 368.8,1630.6 369.4,1631.5Z"/><path d="M618.4,1615.4C627.5,1614.7 645.8,1615.4 645.8,1615.4L666.0,1701.2C666.0,1701.2 669.5,1701.7 670.8,1702.8C672.0,1703.7 672.9,1705.3 672.7,1706.8C672.6,1708.2 671.4,1709.9 670.0,1710.0C656.6,1711.0 643.1,1711.0 629.7,1710.0C628.3,1709.9 627.1,1708.2 626.9,1706.8C626.8,1705.3 627.8,1703.8 628.9,1702.8C629.9,1701.8 632.9,1701.2 632.9,1701.2L630.5,1686.6L610.3,1686.6L611.9,1677.0L628.9,1677.0L616.0,1622.1C616.0,1622.1 615.1,1619.0 615.6,1617.6C616.0,1616.5 617.2,1615.4 618.4,1615.4Z"/><path d="M614.4,1631.5C616.4,1634.7 617.9,1642.3 617.9,1642.3L606.0,1694.4C606.0,1694.4 607.2,1699.0 608.7,1700.8C609.9,1702.3 612.4,1702.1 613.5,1703.6C614.4,1704.6 614.5,1706.3 614.0,1707.6C613.6,1708.8 612.4,1709.9 611.1,1710.0C603.9,1710.7 589.4,1710.0 589.4,1710.0L589.4,1702.0L592.1,1699.5L612.4,1633.7C612.4,1633.7 613.8,1630.6 614.4,1631.5Z"/><path d="M421.3,1615.4L440.6,1615.4L440.6,1622.9C440.6,1622.9 437.1,1627.6 435.8,1630.2C434.2,1633.5 433.3,1637.2 431.9,1640.7C431.1,1642.9 430.9,1645.5 429.4,1647.3C428.4,1648.5 426.5,1649.4 425.0,1649.1C423.4,1648.7 422.1,1647.1 421.6,1645.5C420.8,1643.2 421.3,1638.3 421.3,1638.3L421.3,1615.4Z"/><path d="M444.4,1615.4L477.4,1615.4L477.4,1700.8C477.4,1700.8 480.9,1701.5 482.3,1702.5C483.6,1703.4 485.4,1704.6 485.5,1706.3C485.6,1707.9 484.1,1709.9 482.6,1710.0C468.3,1711.2 453.8,1711.2 439.5,1710.0C437.9,1709.9 436.4,1707.9 436.5,1706.3C436.5,1704.6 438.3,1703.4 439.7,1702.5C441.0,1701.5 444.4,1700.8 444.4,1700.8L444.4,1615.4Z"/><path d="M481.0,1615.4L500.3,1615.4L500.3,1638.3C500.3,1638.3 500.8,1643.2 500.0,1645.5C499.5,1647.1 498.2,1648.7 496.6,1649.1C495.1,1649.4 493.3,1648.5 492.3,1647.3C490.8,1645.5 490.5,1642.9 489.7,1640.7C488.4,1637.2 487.4,1633.5 485.8,1630.2C484.5,1627.6 481.0,1622.9 481.0,1622.9L481.0,1615.4Z"/><path d="M503.9,1615.4C515.6,1614.2 539.4,1615.4 539.4,1615.4L539.4,1700.8C539.4,1700.8 543.0,1701.5 544.5,1702.5C546.0,1703.4 547.9,1704.6 548.1,1706.3C548.2,1707.9 546.7,1709.9 545.2,1710.0C531.2,1711.2 517.0,1711.2 503.1,1710.0C501.5,1709.9 500.2,1707.9 500.2,1706.3C500.2,1704.7 501.7,1703.4 503.1,1702.5C504.5,1701.5 507.9,1700.8 507.9,1700.8L507.9,1624.5C507.9,1624.5 504.4,1623.9 503.1,1622.9C501.9,1622.1 500.5,1620.7 500.6,1619.2C500.8,1617.6 502.2,1615.5 503.9,1615.4Z"/><path d="M543.4,1615.4C543.4,1615.4 554.7,1614.5 560.3,1615.4C564.8,1616.0 569.5,1617.1 573.2,1619.7C576.8,1622.3 579.5,1626.2 581.3,1630.2C582.7,1633.4 583.1,1637.2 582.6,1640.7C582.0,1644.9 580.6,1649.3 578.1,1652.8C575.7,1656.0 571.9,1658.0 568.4,1660.0C566.2,1661.3 561.1,1662.8 561.1,1662.8C561.1,1662.8 567.4,1664.6 570.0,1666.5C573.2,1668.9 576.1,1671.9 578.1,1675.4C580.0,1678.8 580.3,1682.9 581.3,1686.6C581.9,1689.0 581.1,1692.2 582.9,1693.9C584.0,1694.9 585.4,1691.5 586.9,1691.8C588.9,1692.2 591.0,1693.6 591.8,1695.5C592.7,1697.8 592.5,1700.7 591.3,1702.8C589.6,1705.6 586.8,1707.9 583.7,1709.2C579.7,1711.0 575.2,1711.9 570.8,1711.6C566.3,1711.4 561.4,1710.5 557.9,1707.6C554.7,1704.9 553.3,1700.4 552.3,1696.3C550.8,1690.6 551.6,1684.4 550.6,1678.6C550.2,1675.8 549.8,1672.8 548.2,1670.5C547.2,1669.0 543.4,1668.1 543.4,1668.1L543.4,1660.8C543.4,1660.8 547.8,1659.0 549.4,1657.3C550.9,1655.6 552.0,1653.4 552.3,1651.2C553.0,1645.8 553.0,1640.4 552.3,1635.0C551.9,1632.2 550.7,1629.3 549.0,1627.0C547.7,1625.1 543.4,1622.9 543.4,1622.9L543.4,1615.4Z"/><path d="M918.9,1615.4C930.6,1614.2 954.4,1615.4 954.4,1615.4L954.4,1700.8C954.4,1700.8 958.0,1701.5 959.5,1702.5C961.0,1703.4 962.9,1704.6 963.1,1706.3C963.2,1707.9 961.7,1709.9 960.2,1710.0C946.2,1711.2 932.0,1711.2 918.1,1710.0C916.5,1709.9 915.2,1707.9 915.2,1706.3C915.2,1704.7 916.7,1703.4 918.1,1702.5C919.5,1701.5 922.9,1700.8 922.9,1700.8L922.9,1624.5C922.9,1624.5 919.4,1623.9 918.1,1622.9C916.9,1622.1 915.5,1620.7 915.6,1619.2C915.8,1617.6 917.2,1615.5 918.9,1615.4Z"/><path d="M958.4,1615.4C958.4,1615.4 969.7,1614.5 975.3,1615.4C979.8,1616.0 984.5,1617.1 988.2,1619.7C991.8,1622.3 994.5,1626.2 996.3,1630.2C997.7,1633.4 998.1,1637.2 997.6,1640.7C997.0,1644.9 995.6,1649.3 993.1,1652.8C990.7,1656.0 986.9,1658.0 983.4,1660.0C981.2,1661.3 976.1,1662.8 976.1,1662.8C976.1,1662.8 982.4,1664.6 985.0,1666.5C988.2,1668.9 991.1,1671.9 993.1,1675.4C995.0,1678.8 995.3,1682.9 996.3,1686.6C996.9,1689.0 996.1,1692.2 997.9,1693.9C999.0,1694.9 1000.4,1691.5 1001.9,1691.8C1003.9,1692.2 1006.0,1693.6 1006.8,1695.5C1007.7,1697.8 1007.5,1700.7 1006.3,1702.8C1004.6,1705.6 1001.8,1707.9 998.7,1709.2C994.7,1711.0 990.2,1711.9 985.8,1711.6C981.3,1711.4 976.4,1710.5 972.9,1707.6C969.7,1704.9 968.3,1700.4 967.3,1696.3C965.8,1690.6 966.6,1684.4 965.6,1678.6C965.2,1675.8 964.8,1672.8 963.2,1670.5C962.2,1669.0 958.4,1668.1 958.4,1668.1L958.4,1660.8C958.4,1660.8 962.8,1659.0 964.4,1657.3C965.9,1655.6 967.0,1653.4 967.3,1651.2C968.0,1645.8 968.0,1640.4 967.3,1635.0C966.9,1632.2 965.7,1629.3 964.0,1627.0C962.7,1625.1 958.4,1622.9 958.4,1622.9L958.4,1615.4Z"/><path d="M1047.8,1615.4C1059.5,1614.2 1083.3,1615.4 1083.3,1615.4L1083.3,1700.8C1083.3,1700.8 1086.9,1701.5 1088.4,1702.5C1089.9,1703.4 1091.8,1704.6 1092.0,1706.3C1092.1,1707.9 1090.6,1709.9 1089.1,1710.0C1075.1,1711.2 1060.9,1711.2 1047.0,1710.0C1045.4,1709.9 1044.1,1707.9 1044.1,1706.3C1044.1,1704.7 1045.6,1703.4 1047.0,1702.5C1048.4,1701.5 1051.8,1700.8 1051.8,1700.8L1051.8,1624.5C1051.8,1624.5 1048.3,1623.9 1047.0,1622.9C1045.8,1622.1 1044.4,1620.7 1044.5,1619.2C1044.7,1617.6 1046.1,1615.5 1047.8,1615.4Z"/><path d="M1087.3,1615.4C1087.3,1615.4 1098.6,1614.5 1104.2,1615.4C1108.7,1616.0 1113.4,1617.1 1117.1,1619.7C1120.7,1622.3 1123.4,1626.2 1125.2,1630.2C1126.6,1633.4 1127.0,1637.2 1126.5,1640.7C1125.9,1644.9 1124.5,1649.3 1122.0,1652.8C1119.6,1656.0 1115.8,1658.0 1112.3,1660.0C1110.1,1661.3 1105.0,1662.8 1105.0,1662.8C1105.0,1662.8 1111.3,1664.6 1113.9,1666.5C1117.1,1668.9 1120.0,1671.9 1122.0,1675.4C1123.9,1678.8 1124.2,1682.9 1125.2,1686.6C1125.8,1689.0 1125.0,1692.2 1126.8,1693.9C1127.9,1694.9 1129.3,1691.5 1130.8,1691.8C1132.8,1692.2 1134.9,1693.6 1135.7,1695.5C1136.6,1697.8 1136.4,1700.7 1135.2,1702.8C1133.5,1705.6 1130.7,1707.9 1127.6,1709.2C1123.6,1711.0 1119.1,1711.9 1114.7,1711.6C1110.2,1711.4 1105.3,1710.5 1101.8,1707.6C1098.6,1704.9 1097.2,1700.4 1096.2,1696.3C1094.7,1690.6 1095.5,1684.4 1094.5,1678.6C1094.1,1675.8 1093.7,1672.8 1092.1,1670.5C1091.1,1669.0 1087.3,1668.1 1087.3,1668.1L1087.3,1660.8C1087.3,1660.8 1091.7,1659.0 1093.3,1657.3C1094.8,1655.6 1095.9,1653.4 1096.2,1651.2C1096.9,1645.8 1096.9,1640.4 1096.2,1635.0C1095.8,1632.2 1094.6,1629.3 1092.9,1627.0C1091.6,1625.1 1087.3,1622.9 1087.3,1622.9L1087.3,1615.4Z"/><path d="M708.9,1613.3C708.9,1613.3 700.6,1613.4 696.8,1614.9C691.5,1616.9 686.5,1619.9 682.3,1623.7C677.7,1627.9 673.5,1632.7 671.0,1638.3C668.3,1644.3 667.4,1651.0 666.9,1657.6C666.6,1663.0 667.2,1668.5 668.5,1673.7C670.2,1679.9 672.3,1686.1 675.8,1691.5C679.1,1696.6 683.8,1700.8 688.7,1704.4C692.5,1707.2 697.1,1708.9 701.6,1710.5C703.9,1711.3 708.9,1711.6 708.9,1711.6L708.9,1702.0C708.9,1702.0 705.1,1699.8 704.0,1697.9C702.7,1695.5 701.9,1689.9 701.9,1689.9L701.9,1635.0C701.9,1635.0 702.6,1628.8 704.0,1626.2C705.0,1624.3 708.9,1622.1 708.9,1622.1L708.9,1613.3Z"/><path d="M713.2,1613.7C713.2,1613.7 718.4,1615.1 721.0,1616.0C724.3,1617.2 730.6,1620.2 730.6,1620.2C730.6,1620.2 733.6,1616.4 735.5,1615.0C736.6,1614.2 738.2,1613.3 739.5,1613.7C741.0,1614.2 742.4,1615.7 742.7,1617.3C743.7,1622.6 743.1,1628.0 743.2,1633.4C743.3,1638.3 743.9,1643.2 743.2,1647.9C742.9,1649.8 742.0,1651.9 740.3,1652.8C738.9,1653.5 736.8,1653.0 735.5,1652.0C733.8,1650.6 733.1,1648.3 732.3,1646.3C730.9,1643.2 730.6,1639.7 729.0,1636.6C727.3,1633.2 725.4,1629.6 722.6,1627.0C720.0,1624.6 713.2,1622.1 713.2,1622.1L713.2,1613.7Z"/><path d="M713.2,1711.6L713.2,1702.0C713.2,1702.0 719.8,1699.9 722.6,1697.9C725.7,1695.8 728.3,1692.9 730.6,1689.9C732.1,1688.0 732.3,1685.2 733.9,1683.4C735.0,1682.1 736.7,1680.9 738.4,1681.0C740.3,1681.2 742.4,1682.5 743.2,1684.2C744.1,1685.9 743.4,1688.1 742.7,1689.9C741.3,1693.8 739.8,1697.9 737.1,1701.2C734.5,1704.3 731.1,1706.8 727.4,1708.4C723.0,1710.4 713.2,1711.6 713.2,1711.6Z"/><path d="M749.2,1615.4C762.3,1614.2 775.6,1614.2 788.7,1615.4C790.5,1615.5 792.3,1617.5 792.3,1619.2C792.3,1621.0 790.2,1622.1 788.7,1623.1C787.3,1624.0 783.9,1624.7 783.9,1624.7L783.9,1700.5C783.9,1700.5 787.3,1701.2 788.7,1702.1C790.2,1703.1 792.3,1704.2 792.3,1706.0C792.3,1707.8 790.5,1709.9 788.7,1710.0C775.6,1711.3 762.3,1711.3 749.2,1710.0C747.5,1709.9 746.0,1707.7 746.0,1706.0C746.0,1704.3 747.8,1703.0 749.2,1702.1C750.8,1701.1 754.5,1700.5 754.5,1700.5L754.5,1624.7C754.5,1624.7 750.8,1624.1 749.2,1623.1C747.8,1622.2 746.0,1620.9 746.0,1619.2C746.0,1617.5 747.5,1615.5 749.2,1615.4Z"/><path d="M804.0,1615.4C813.1,1614.1 822.4,1614.2 831.5,1615.4C833.2,1615.6 835.2,1617.4 835.2,1619.2C835.2,1621.0 832.9,1622.1 831.5,1623.1C830.0,1624.1 826.6,1625.4 826.6,1625.4L810.5,1643.9L835.5,1700.5C835.5,1700.5 838.2,1701.9 839.0,1703.1C839.8,1704.2 840.4,1705.7 840.0,1707.0C839.6,1708.3 838.5,1709.9 837.1,1710.0C823.4,1711.0 809.6,1711.0 796.0,1710.0C794.5,1709.9 793.2,1708.4 792.9,1707.0C792.6,1705.6 793.5,1704.2 794.4,1703.1C795.2,1702.1 797.6,1700.8 797.6,1700.8L788.7,1664.1L789.0,1659.2C789.0,1659.2 802.9,1641.9 808.9,1632.6C810.0,1630.9 810.8,1628.5 810.0,1626.6C809.3,1624.8 806.7,1624.6 805.2,1623.4C803.7,1622.3 801.4,1621.4 801.1,1619.5C800.9,1617.9 802.3,1615.6 804.0,1615.4Z"/><path d="M1136.1,1615.4C1149.4,1614.2 1162.7,1614.2 1176.0,1615.4C1177.7,1615.5 1179.7,1617.4 1179.7,1619.2C1179.7,1621.0 1177.4,1622.1 1176.0,1623.1C1174.5,1624.1 1171.1,1625.0 1171.1,1625.0C1171.1,1625.0 1170.7,1664.0 1171.6,1683.4C1171.8,1687.3 1172.6,1691.3 1174.4,1694.7C1175.8,1697.4 1180.8,1701.2 1180.8,1701.2L1180.8,1711.6C1180.8,1711.6 1168.2,1711.2 1162.3,1709.2C1157.4,1707.6 1152.9,1704.7 1149.4,1701.2C1146.3,1698.1 1144.4,1694.0 1142.9,1689.9C1141.6,1686.3 1141.4,1682.4 1141.3,1678.6C1140.8,1660.7 1141.3,1625.0 1141.3,1625.0C1141.3,1625.0 1137.6,1624.1 1136.1,1623.1C1134.7,1622.1 1132.7,1620.9 1132.7,1619.2C1132.7,1617.5 1134.4,1615.5 1136.1,1615.4Z"/><path d="M1193.2,1615.4C1201.1,1614.2 1209.2,1614.2 1217.1,1615.4C1218.8,1615.6 1220.6,1617.5 1220.6,1619.2C1220.6,1621.0 1218.4,1621.9 1217.1,1623.1C1215.0,1625.0 1212.1,1626.2 1210.6,1628.6C1208.9,1631.4 1208.2,1634.9 1208.1,1638.3C1207.8,1646.3 1209.2,1654.4 1209.4,1662.5C1209.5,1669.4 1210.0,1676.5 1209.0,1683.4C1208.3,1688.5 1206.8,1693.5 1204.2,1697.9C1201.8,1702.0 1198.4,1705.7 1194.5,1708.4C1191.5,1710.5 1184.0,1711.6 1184.0,1711.6L1184.0,1702.0C1184.0,1702.0 1190.7,1699.0 1192.9,1696.3C1196.0,1692.6 1198.1,1688.1 1199.4,1683.4C1201.1,1676.6 1201.3,1669.5 1201.8,1662.5C1202.3,1654.4 1203.1,1646.3 1202.6,1638.3C1202.4,1634.9 1201.4,1631.5 1199.7,1628.6C1198.3,1626.3 1195.6,1625.3 1193.7,1623.4C1192.5,1622.2 1190.6,1621.0 1190.5,1619.2C1190.4,1617.6 1191.7,1615.6 1193.2,1615.4Z"/><circle cx="1022.7" cy="1699" r="13.5"/></g>
</svg>
</body></html>
